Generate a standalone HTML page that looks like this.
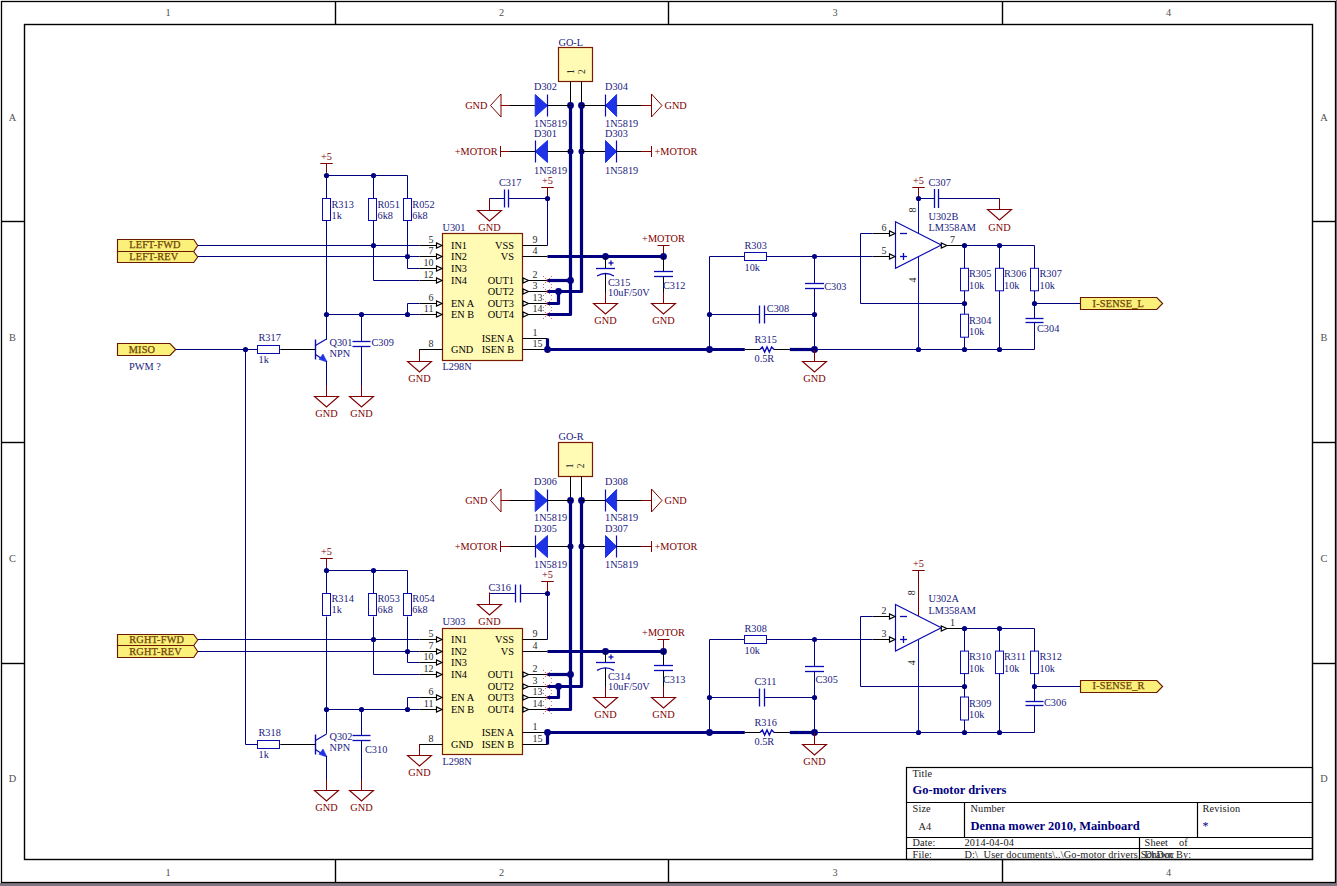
<!DOCTYPE html>
<html><head><meta charset="utf-8"><title>Go-motor drivers</title><style>html,body{margin:0;padding:0;background:#7e7982;}svg{display:block;}text{font-family:"Liberation Serif", serif;}</style></head><body><svg width="1337" height="886" viewBox="0 0 1337 886" font-family='"Liberation Serif", serif'><rect x="0" y="0" width="1337" height="886" fill="#7e7982"/>
<rect x="0" y="0" width="1336" height="883" fill="#ffffff"/>
<rect x="1.5" y="1.5" width="1334" height="881" fill="none" stroke="#000" stroke-width="1.3"/>
<rect x="24.5" y="24.5" width="1288" height="835" fill="none" stroke="#000" stroke-width="1.4"/>
<line x1="335.5" y1="1.5" x2="335.5" y2="24.5" stroke="#000" stroke-width="1.4" stroke-linecap="butt"/>
<line x1="335.5" y1="859.5" x2="335.5" y2="882" stroke="#000" stroke-width="1.4" stroke-linecap="butt"/>
<line x1="668.5" y1="1.5" x2="668.5" y2="24.5" stroke="#000" stroke-width="1.4" stroke-linecap="butt"/>
<line x1="668.5" y1="859.5" x2="668.5" y2="882" stroke="#000" stroke-width="1.4" stroke-linecap="butt"/>
<line x1="1002.5" y1="1.5" x2="1002.5" y2="24.5" stroke="#000" stroke-width="1.4" stroke-linecap="butt"/>
<line x1="1002.5" y1="859.5" x2="1002.5" y2="882" stroke="#000" stroke-width="1.4" stroke-linecap="butt"/>
<line x1="1.5" y1="221.5" x2="24.5" y2="221.5" stroke="#000" stroke-width="1.4" stroke-linecap="butt"/>
<line x1="1312.5" y1="221.5" x2="1335" y2="221.5" stroke="#000" stroke-width="1.4" stroke-linecap="butt"/>
<line x1="1.5" y1="442.5" x2="24.5" y2="442.5" stroke="#000" stroke-width="1.4" stroke-linecap="butt"/>
<line x1="1312.5" y1="442.5" x2="1335" y2="442.5" stroke="#000" stroke-width="1.4" stroke-linecap="butt"/>
<line x1="1.5" y1="663.5" x2="24.5" y2="663.5" stroke="#000" stroke-width="1.4" stroke-linecap="butt"/>
<line x1="1312.5" y1="663.5" x2="1335" y2="663.5" stroke="#000" stroke-width="1.4" stroke-linecap="butt"/>
<text x="168" y="16" fill="#505050" font-size="10.3" text-anchor="middle" font-weight="normal">1</text>
<text x="168" y="875.5" fill="#505050" font-size="10.3" text-anchor="middle" font-weight="normal">1</text>
<text x="501.5" y="16" fill="#505050" font-size="10.3" text-anchor="middle" font-weight="normal">2</text>
<text x="501.5" y="875.5" fill="#505050" font-size="10.3" text-anchor="middle" font-weight="normal">2</text>
<text x="835" y="16" fill="#505050" font-size="10.3" text-anchor="middle" font-weight="normal">3</text>
<text x="835" y="875.5" fill="#505050" font-size="10.3" text-anchor="middle" font-weight="normal">3</text>
<text x="1168.5" y="16" fill="#505050" font-size="10.3" text-anchor="middle" font-weight="normal">4</text>
<text x="1168.5" y="875.5" fill="#505050" font-size="10.3" text-anchor="middle" font-weight="normal">4</text>
<text x="12.5" y="120.5" fill="#505050" font-size="10.3" text-anchor="middle" font-weight="normal">A</text>
<text x="1324" y="120.5" fill="#505050" font-size="10.3" text-anchor="middle" font-weight="normal">A</text>
<text x="12.5" y="341" fill="#505050" font-size="10.3" text-anchor="middle" font-weight="normal">B</text>
<text x="1324" y="341" fill="#505050" font-size="10.3" text-anchor="middle" font-weight="normal">B</text>
<text x="12.5" y="561.5" fill="#505050" font-size="10.3" text-anchor="middle" font-weight="normal">C</text>
<text x="1324" y="561.5" fill="#505050" font-size="10.3" text-anchor="middle" font-weight="normal">C</text>
<text x="12.5" y="782" fill="#505050" font-size="10.3" text-anchor="middle" font-weight="normal">D</text>
<text x="1324" y="782" fill="#505050" font-size="10.3" text-anchor="middle" font-weight="normal">D</text>
<polygon points="117.5,239.5 193.7,239.5 197.7,245.5 193.7,251.5 117.5,251.5" fill="#faf07a" stroke="#6a1a00" stroke-width="1.15" stroke-linejoin="miter" stroke-linecap="butt"/>
<polygon points="117.5,251.5 193.7,251.5 197.7,257 193.7,262.5 117.5,262.5" fill="#faf07a" stroke="#6a1a00" stroke-width="1.15" stroke-linejoin="miter" stroke-linecap="butt"/>
<text x="129.2" y="248.4" fill="#6e4208" font-size="10.3" text-anchor="start" font-weight="normal" letter-spacing="0.2" stroke="#6e4208" stroke-width="0.25">LEFT-FWD</text>
<text x="129.2" y="259.6" fill="#6e4208" font-size="10.3" text-anchor="start" font-weight="normal" letter-spacing="0.2" stroke="#6e4208" stroke-width="0.25">LEFT-REV</text>
<polyline points="198,245.5 419.5,245.5" fill="none" stroke="#000080" stroke-width="1" stroke-linejoin="miter" stroke-linecap="butt"/>
<polyline points="198,256.5 419.5,256.5" fill="none" stroke="#000080" stroke-width="1" stroke-linejoin="miter" stroke-linecap="butt"/>
<rect x="442.5" y="233.5" width="80" height="127" fill="#fffab4" stroke="#7a1a00" stroke-width="1.2"/>
<polyline points="419.5,245.5 442.5,245.5" fill="none" stroke="#000000" stroke-width="1" stroke-linejoin="miter" stroke-linecap="butt"/>
<polygon points="436.5,242.9 436.5,248.1 442,245.5 436.5,242.9" fill="#fff" stroke="#000000" stroke-width="1.15" stroke-linejoin="miter" stroke-linecap="butt"/>
<text x="451" y="248.5" fill="#000000" font-size="10.3" text-anchor="start" font-weight="normal">IN1</text>
<polyline points="419.5,256.5 442.5,256.5" fill="none" stroke="#000000" stroke-width="1" stroke-linejoin="miter" stroke-linecap="butt"/>
<polygon points="436.5,253.9 436.5,259.1 442,256.5 436.5,253.9" fill="#fff" stroke="#000000" stroke-width="1.15" stroke-linejoin="miter" stroke-linecap="butt"/>
<text x="451" y="259.5" fill="#000000" font-size="10.3" text-anchor="start" font-weight="normal">IN2</text>
<polyline points="419.5,268.5 442.5,268.5" fill="none" stroke="#000000" stroke-width="1" stroke-linejoin="miter" stroke-linecap="butt"/>
<polygon points="436.5,265.9 436.5,271.1 442,268.5 436.5,265.9" fill="#fff" stroke="#000000" stroke-width="1.15" stroke-linejoin="miter" stroke-linecap="butt"/>
<text x="451" y="271.5" fill="#000000" font-size="10.3" text-anchor="start" font-weight="normal">IN3</text>
<polyline points="419.5,280.5 442.5,280.5" fill="none" stroke="#000000" stroke-width="1" stroke-linejoin="miter" stroke-linecap="butt"/>
<polygon points="436.5,277.9 436.5,283.1 442,280.5 436.5,277.9" fill="#fff" stroke="#000000" stroke-width="1.15" stroke-linejoin="miter" stroke-linecap="butt"/>
<text x="451" y="283.5" fill="#000000" font-size="10.3" text-anchor="start" font-weight="normal">IN4</text>
<polyline points="419.5,303.5 442.5,303.5" fill="none" stroke="#000000" stroke-width="1" stroke-linejoin="miter" stroke-linecap="butt"/>
<polygon points="436.5,300.9 436.5,306.1 442,303.5 436.5,300.9" fill="#fff" stroke="#000000" stroke-width="1.15" stroke-linejoin="miter" stroke-linecap="butt"/>
<text x="451" y="306.5" fill="#000000" font-size="10.3" text-anchor="start" font-weight="normal">EN A</text>
<polyline points="419.5,314.5 442.5,314.5" fill="none" stroke="#000000" stroke-width="1" stroke-linejoin="miter" stroke-linecap="butt"/>
<polygon points="436.5,311.9 436.5,317.1 442,314.5 436.5,311.9" fill="#fff" stroke="#000000" stroke-width="1.15" stroke-linejoin="miter" stroke-linecap="butt"/>
<text x="451" y="317.5" fill="#000000" font-size="10.3" text-anchor="start" font-weight="normal">EN B</text>
<polyline points="419.5,349.5 442.5,349.5" fill="none" stroke="#000000" stroke-width="1" stroke-linejoin="miter" stroke-linecap="butt"/>
<text x="451" y="352.5" fill="#000000" font-size="10.3" text-anchor="start" font-weight="normal">GND</text>
<text x="433.5" y="242.5" fill="#2a2a2a" font-size="10" text-anchor="end" font-weight="normal">5</text>
<text x="433.5" y="253.5" fill="#2a2a2a" font-size="10" text-anchor="end" font-weight="normal">7</text>
<text x="433.5" y="265.5" fill="#2a2a2a" font-size="10" text-anchor="end" font-weight="normal">10</text>
<text x="433.5" y="277.5" fill="#2a2a2a" font-size="10" text-anchor="end" font-weight="normal">12</text>
<text x="433.5" y="300.5" fill="#2a2a2a" font-size="10" text-anchor="end" font-weight="normal">6</text>
<text x="433.5" y="311.5" fill="#2a2a2a" font-size="10" text-anchor="end" font-weight="normal">11</text>
<text x="433.5" y="346.5" fill="#2a2a2a" font-size="10" text-anchor="end" font-weight="normal">8</text>
<polyline points="522.5,245.5 547.5,245.5" fill="none" stroke="#000000" stroke-width="1" stroke-linejoin="miter" stroke-linecap="butt"/>
<text x="514" y="248.5" fill="#000000" font-size="10.3" text-anchor="end" font-weight="normal">VSS</text>
<polyline points="522.5,256.5 547.5,256.5" fill="none" stroke="#000000" stroke-width="1" stroke-linejoin="miter" stroke-linecap="butt"/>
<text x="514" y="259.5" fill="#000000" font-size="10.3" text-anchor="end" font-weight="normal">VS</text>
<polyline points="522.5,280.5 547.5,280.5" fill="none" stroke="#000000" stroke-width="1" stroke-linejoin="miter" stroke-linecap="butt"/>
<polygon points="523,277.9 523,283.1 528.5,280.5 523,277.9" fill="#fff" stroke="#000000" stroke-width="1.15" stroke-linejoin="miter" stroke-linecap="butt"/>
<text x="514" y="283.5" fill="#000000" font-size="10.3" text-anchor="end" font-weight="normal">OUT1</text>
<polyline points="522.5,291.5 547.5,291.5" fill="none" stroke="#000000" stroke-width="1" stroke-linejoin="miter" stroke-linecap="butt"/>
<polygon points="523,288.9 523,294.1 528.5,291.5 523,288.9" fill="#fff" stroke="#000000" stroke-width="1.15" stroke-linejoin="miter" stroke-linecap="butt"/>
<text x="514" y="294.5" fill="#000000" font-size="10.3" text-anchor="end" font-weight="normal">OUT2</text>
<polyline points="522.5,303.5 547.5,303.5" fill="none" stroke="#000000" stroke-width="1" stroke-linejoin="miter" stroke-linecap="butt"/>
<polygon points="523,300.9 523,306.1 528.5,303.5 523,300.9" fill="#fff" stroke="#000000" stroke-width="1.15" stroke-linejoin="miter" stroke-linecap="butt"/>
<text x="514" y="306.5" fill="#000000" font-size="10.3" text-anchor="end" font-weight="normal">OUT3</text>
<polyline points="522.5,314.5 547.5,314.5" fill="none" stroke="#000000" stroke-width="1" stroke-linejoin="miter" stroke-linecap="butt"/>
<polygon points="523,311.9 523,317.1 528.5,314.5 523,311.9" fill="#fff" stroke="#000000" stroke-width="1.15" stroke-linejoin="miter" stroke-linecap="butt"/>
<text x="514" y="317.5" fill="#000000" font-size="10.3" text-anchor="end" font-weight="normal">OUT4</text>
<polyline points="522.5,338.5 547.5,338.5" fill="none" stroke="#000000" stroke-width="1" stroke-linejoin="miter" stroke-linecap="butt"/>
<text x="514" y="341.5" fill="#000000" font-size="10.3" text-anchor="end" font-weight="normal">ISEN A</text>
<polyline points="522.5,349.5 547.5,349.5" fill="none" stroke="#000000" stroke-width="1" stroke-linejoin="miter" stroke-linecap="butt"/>
<text x="514" y="352.5" fill="#000000" font-size="10.3" text-anchor="end" font-weight="normal">ISEN B</text>
<text x="532.5" y="242.5" fill="#2a2a2a" font-size="10" text-anchor="start" font-weight="normal">9</text>
<text x="532.5" y="253.5" fill="#2a2a2a" font-size="10" text-anchor="start" font-weight="normal">4</text>
<text x="532.5" y="277.5" fill="#2a2a2a" font-size="10" text-anchor="start" font-weight="normal">2</text>
<text x="532.5" y="288.5" fill="#2a2a2a" font-size="10" text-anchor="start" font-weight="normal">3</text>
<text x="532.5" y="300.5" fill="#2a2a2a" font-size="10" text-anchor="start" font-weight="normal">13</text>
<text x="532.5" y="311.5" fill="#2a2a2a" font-size="10" text-anchor="start" font-weight="normal">14</text>
<text x="532.5" y="335.5" fill="#2a2a2a" font-size="10" text-anchor="start" font-weight="normal">1</text>
<text x="532.5" y="346.5" fill="#2a2a2a" font-size="10" text-anchor="start" font-weight="normal">15</text>
<text x="442.5" y="230.6" fill="#1a1a80" font-size="10.3" text-anchor="start" font-weight="normal">U301</text>
<text x="442.5" y="370.4" fill="#1a1a80" font-size="10.3" text-anchor="start" font-weight="normal">L298N</text>
<g stroke="#b01818" stroke-width="1" stroke-dasharray="1.1,1.7" opacity="0.85"><line x1="543" y1="276" x2="552" y2="285"/><line x1="543" y1="285" x2="552" y2="276"/></g>
<rect x="546.5" y="279.5" width="2" height="2" fill="#e01010"/>
<g stroke="#b01818" stroke-width="1" stroke-dasharray="1.1,1.7" opacity="0.85"><line x1="543" y1="287" x2="552" y2="296"/><line x1="543" y1="296" x2="552" y2="287"/></g>
<rect x="546.5" y="290.5" width="2" height="2" fill="#e01010"/>
<g stroke="#b01818" stroke-width="1" stroke-dasharray="1.1,1.7" opacity="0.85"><line x1="543" y1="299" x2="552" y2="308"/><line x1="543" y1="308" x2="552" y2="299"/></g>
<rect x="546.5" y="302.5" width="2" height="2" fill="#e01010"/>
<g stroke="#b01818" stroke-width="1" stroke-dasharray="1.1,1.7" opacity="0.85"><line x1="543" y1="310" x2="552" y2="319"/><line x1="543" y1="319" x2="552" y2="310"/></g>
<rect x="546.5" y="313.5" width="2" height="2" fill="#e01010"/>
<line x1="320.25" y1="163.5" x2="332.75" y2="163.5" stroke="#800000" stroke-width="1" stroke-linecap="butt"/>
<text x="326.5" y="159.5" fill="#800000" font-size="10.3" text-anchor="middle" font-weight="normal">+5</text>
<polyline points="326.5,163.5 326.5,172.5" fill="none" stroke="#800000" stroke-width="1" stroke-linejoin="miter" stroke-linecap="butt"/>
<polyline points="326.5,172.5 326.5,198.5" fill="none" stroke="#000080" stroke-width="1" stroke-linejoin="miter" stroke-linecap="butt"/>
<rect x="322.5" y="198.5" width="8" height="22" fill="none" stroke="#0a0ab4" stroke-width="1"/>
<polyline points="326.5,220.5 326.5,339.5" fill="none" stroke="#000080" stroke-width="1" stroke-linejoin="miter" stroke-linecap="butt"/>
<polyline points="326.5,175.5 407.5,175.5 407.5,198.5" fill="none" stroke="#000080" stroke-width="1" stroke-linejoin="miter" stroke-linecap="butt"/>
<polyline points="373.5,175.5 373.5,198.5" fill="none" stroke="#000080" stroke-width="1" stroke-linejoin="miter" stroke-linecap="butt"/>
<rect x="368.5" y="198.5" width="8" height="22" fill="none" stroke="#0a0ab4" stroke-width="1"/>
<rect x="403.5" y="198.5" width="8" height="22" fill="none" stroke="#0a0ab4" stroke-width="1"/>
<polyline points="373.5,220.5 373.5,280.5 419.5,280.5" fill="none" stroke="#000080" stroke-width="1" stroke-linejoin="miter" stroke-linecap="butt"/>
<polyline points="407.5,220.5 407.5,268.5 419.5,268.5" fill="none" stroke="#000080" stroke-width="1" stroke-linejoin="miter" stroke-linecap="butt"/>
<polyline points="407.5,303.5 407.5,314.5" fill="none" stroke="#000080" stroke-width="1" stroke-linejoin="miter" stroke-linecap="butt"/>
<polyline points="407.5,303.5 419.5,303.5" fill="none" stroke="#000080" stroke-width="1" stroke-linejoin="miter" stroke-linecap="butt"/>
<polyline points="326.5,314.5 419.5,314.5" fill="none" stroke="#000080" stroke-width="1" stroke-linejoin="miter" stroke-linecap="butt"/>
<circle cx="326.5" cy="175.5" r="2.6" fill="#000080"/>
<circle cx="373.5" cy="175.5" r="2.6" fill="#000080"/>
<circle cx="373.5" cy="245.5" r="2.6" fill="#000080"/>
<circle cx="407.5" cy="256.5" r="2.6" fill="#000080"/>
<circle cx="326.5" cy="314.5" r="2.6" fill="#000080"/>
<circle cx="361.5" cy="314.5" r="2.6" fill="#000080"/>
<circle cx="407.5" cy="314.5" r="2.6" fill="#000080"/>
<text x="331.5" y="207.8" fill="#1a1a80" font-size="10.3" text-anchor="start" font-weight="normal">R313</text>
<text x="331.5" y="218.8" fill="#1a1a80" font-size="10.3" text-anchor="start" font-weight="normal">1k</text>
<text x="377.5" y="207.8" fill="#1a1a80" font-size="10.3" text-anchor="start" font-weight="normal">R051</text>
<text x="377.5" y="218.8" fill="#1a1a80" font-size="10.3" text-anchor="start" font-weight="normal">6k8</text>
<text x="412.3" y="207.8" fill="#1a1a80" font-size="10.3" text-anchor="start" font-weight="normal">R052</text>
<text x="412.3" y="218.8" fill="#1a1a80" font-size="10.3" text-anchor="start" font-weight="normal">6k8</text>
<line x1="315.5" y1="339.5" x2="315.5" y2="359.5" stroke="#0a0ab4" stroke-width="1.4" stroke-linecap="butt"/>
<line x1="315.5" y1="345.5" x2="326.5" y2="339" stroke="#0a0ab4" stroke-width="1.2" stroke-linecap="butt"/>
<line x1="315.5" y1="354.5" x2="324.5" y2="360.5" stroke="#0a0ab4" stroke-width="1.2" stroke-linecap="butt"/>
<polygon points="327,362 319,359.3 323,354" fill="#1e32e6" stroke="#1e32e6" stroke-width="0.6" stroke-linejoin="miter" stroke-linecap="butt"/>
<polyline points="280.5,349.5 315.5,349.5" fill="none" stroke="#000000" stroke-width="1" stroke-linejoin="miter" stroke-linecap="butt"/>
<polyline points="326.5,339 326.5,339.5" fill="none" stroke="#000000" stroke-width="1" stroke-linejoin="miter" stroke-linecap="butt"/>
<polyline points="326.5,361 326.5,396.5" fill="none" stroke="#000080" stroke-width="1" stroke-linejoin="miter" stroke-linecap="butt"/>
<line x1="326.5" y1="385.5" x2="326.5" y2="396.5" stroke="#800000" stroke-width="1" stroke-linecap="butt"/>
<polygon points="314.5,396.5 338.5,396.5 326.5,407 314.5,396.5" fill="none" stroke="#800000" stroke-width="1.1" stroke-linejoin="miter" stroke-linecap="butt"/>
<text x="326.5" y="416.8" fill="#800000" font-size="10.3" text-anchor="middle" font-weight="normal">GND</text>
<text x="329.5" y="345.6" fill="#1a1a80" font-size="10.3" text-anchor="start" font-weight="normal">Q301</text>
<text x="329.5" y="356.8" fill="#1a1a80" font-size="10.3" text-anchor="start" font-weight="normal">NPN</text>
<polyline points="361.5,314.5 361.5,341.5" fill="none" stroke="#000080" stroke-width="1" stroke-linejoin="miter" stroke-linecap="butt"/>
<line x1="352.5" y1="341.5" x2="370.5" y2="341.5" stroke="#0a0ab4" stroke-width="1.3" stroke-linecap="butt"/>
<line x1="352.5" y1="346.5" x2="370.5" y2="346.5" stroke="#0a0ab4" stroke-width="1.3" stroke-linecap="butt"/>
<polyline points="361.5,346.5 361.5,396.5" fill="none" stroke="#000080" stroke-width="1" stroke-linejoin="miter" stroke-linecap="butt"/>
<line x1="361.5" y1="385.5" x2="361.5" y2="396.5" stroke="#800000" stroke-width="1" stroke-linecap="butt"/>
<polygon points="349.5,396.5 373.5,396.5 361.5,407 349.5,396.5" fill="none" stroke="#800000" stroke-width="1.1" stroke-linejoin="miter" stroke-linecap="butt"/>
<text x="361.5" y="416.8" fill="#800000" font-size="10.3" text-anchor="middle" font-weight="normal">GND</text>
<text x="371.5" y="345.6" fill="#1a1a80" font-size="10.3" text-anchor="start" font-weight="normal">C309</text>
<polygon points="117.5,343.5 170,343.5 175.7,349.5 170,355.5 117.5,355.5" fill="#faf07a" stroke="#6a1a00" stroke-width="1.15" stroke-linejoin="miter" stroke-linecap="butt"/>
<text x="128.7" y="352.8" fill="#6e4208" font-size="10.3" text-anchor="start" font-weight="normal" letter-spacing="0.2" stroke="#6e4208" stroke-width="0.25">MISO</text>
<text x="129" y="370.2" fill="#1a1a80" font-size="10.3" text-anchor="start" font-weight="normal" xml:space="preserve">PWM ?</text>
<polyline points="176,349.5 257,349.5" fill="none" stroke="#000080" stroke-width="1" stroke-linejoin="miter" stroke-linecap="butt"/>
<circle cx="245.5" cy="349.5" r="2.6" fill="#000080"/>
<polyline points="245.5,349.5 245.5,744.5 257,744.5" fill="none" stroke="#000080" stroke-width="1" stroke-linejoin="miter" stroke-linecap="butt"/>
<rect x="257.5" y="345.5" width="22" height="8" fill="none" stroke="#0a0ab4" stroke-width="1"/>
<polyline points="279.5,349.5 280.5,349.5" fill="none" stroke="#000080" stroke-width="1" stroke-linejoin="miter" stroke-linecap="butt"/>
<text x="258.5" y="341.2" fill="#1a1a80" font-size="10.3" text-anchor="start" font-weight="normal">R317</text>
<text x="258.5" y="363.4" fill="#1a1a80" font-size="10.3" text-anchor="start" font-weight="normal">1k</text>
<polyline points="442.5,349.5 419.5,349.5 419.5,361.3" fill="none" stroke="#000000" stroke-width="1" stroke-linejoin="miter" stroke-linecap="butt"/>
<line x1="419.5" y1="350.5" x2="419.5" y2="361.5" stroke="#800000" stroke-width="1" stroke-linecap="butt"/>
<polygon points="407.5,361.5 431.5,361.5 419.5,372 407.5,361.5" fill="none" stroke="#800000" stroke-width="1.1" stroke-linejoin="miter" stroke-linecap="butt"/>
<text x="419.5" y="382" fill="#800000" font-size="10.3" text-anchor="middle" font-weight="normal">GND</text>
<polyline points="547.5,245.5 547.5,198.5" fill="none" stroke="#000080" stroke-width="1" stroke-linejoin="miter" stroke-linecap="butt"/>
<polyline points="547.5,198.5 547.5,187.5" fill="none" stroke="#800000" stroke-width="1" stroke-linejoin="miter" stroke-linecap="butt"/>
<line x1="541.25" y1="187.5" x2="553.75" y2="187.5" stroke="#800000" stroke-width="1" stroke-linecap="butt"/>
<text x="547.5" y="183.5" fill="#800000" font-size="10.3" text-anchor="middle" font-weight="normal">+5</text>
<circle cx="547.5" cy="198.5" r="2.6" fill="#000080"/>
<text x="499" y="186" fill="#1a1a80" font-size="10.3" text-anchor="start" font-weight="normal">C317</text>
<polyline points="547.5,198.5 508.5,198.5" fill="none" stroke="#000080" stroke-width="1" stroke-linejoin="miter" stroke-linecap="butt"/>
<line x1="504.5" y1="189.5" x2="504.5" y2="207.5" stroke="#0a0ab4" stroke-width="1.3" stroke-linecap="butt"/>
<line x1="508.5" y1="189.5" x2="508.5" y2="207.5" stroke="#0a0ab4" stroke-width="1.3" stroke-linecap="butt"/>
<polyline points="504.5,198.5 489.5,198.5 489.5,210.2" fill="none" stroke="#000080" stroke-width="1" stroke-linejoin="miter" stroke-linecap="butt"/>
<line x1="489.5" y1="198.5" x2="489.5" y2="210.5" stroke="#800000" stroke-width="1" stroke-linecap="butt"/>
<polygon points="477.5,210.5 501.5,210.5 489.5,221 477.5,210.5" fill="none" stroke="#800000" stroke-width="1.1" stroke-linejoin="miter" stroke-linecap="butt"/>
<text x="489.5" y="231" fill="#800000" font-size="10.3" text-anchor="middle" font-weight="normal">GND</text>
<polyline points="663.5,256.5 663.5,245.5" fill="none" stroke="#800000" stroke-width="1" stroke-linejoin="miter" stroke-linecap="butt"/>
<polyline points="547.5,256.5 663.5,256.5" fill="none" stroke="#000080" stroke-width="3.2" stroke-linejoin="round" stroke-linecap="butt"/>
<circle cx="605.5" cy="256.5" r="3.4" fill="#000080"/>
<circle cx="663.5" cy="256.5" r="3.4" fill="#000080"/>
<line x1="657.5" y1="245.5" x2="669.5" y2="245.5" stroke="#800000" stroke-width="1" stroke-linecap="butt"/>
<text x="663.5" y="241.5" fill="#800000" font-size="10.3" text-anchor="middle" font-weight="normal">+MOTOR</text>
<polyline points="605.5,256.5 605.5,268.3" fill="none" stroke="#000000" stroke-width="1" stroke-linejoin="miter" stroke-linecap="butt"/>
<line x1="596" y1="268.5" x2="615" y2="268.5" stroke="#0a0ab4" stroke-width="1.3" stroke-linecap="butt"/>
<path d="M597,276 Q605.5,271 614,276" fill="none" stroke="#0a0ab4" stroke-width="1.3"/>
<line x1="608.5" y1="263" x2="613.5" y2="263" stroke="#0a0ab4" stroke-width="1.3" stroke-linecap="butt"/>
<line x1="611" y1="260.5" x2="611" y2="265.5" stroke="#0a0ab4" stroke-width="1.3" stroke-linecap="butt"/>
<polyline points="605.5,273.5 605.5,303.2" fill="none" stroke="#000000" stroke-width="1" stroke-linejoin="miter" stroke-linecap="butt"/>
<line x1="605.5" y1="292.5" x2="605.5" y2="303.5" stroke="#800000" stroke-width="1" stroke-linecap="butt"/>
<polygon points="593.5,303.5 617.5,303.5 605.5,314 593.5,303.5" fill="none" stroke="#800000" stroke-width="1.1" stroke-linejoin="miter" stroke-linecap="butt"/>
<text x="605.5" y="324" fill="#800000" font-size="10.3" text-anchor="middle" font-weight="normal">GND</text>
<text x="608" y="285.5" fill="#1a1a80" font-size="10.3" text-anchor="start" font-weight="normal">C315</text>
<text x="608" y="296" fill="#1a1a80" font-size="10.3" text-anchor="start" font-weight="normal">10uF/50V</text>
<polyline points="663.5,256.5 663.5,271.5" fill="none" stroke="#000000" stroke-width="1" stroke-linejoin="miter" stroke-linecap="butt"/>
<line x1="654" y1="271.5" x2="673" y2="271.5" stroke="#0a0ab4" stroke-width="1.3" stroke-linecap="butt"/>
<line x1="654" y1="276.5" x2="673" y2="276.5" stroke="#0a0ab4" stroke-width="1.3" stroke-linecap="butt"/>
<polyline points="663.5,276.5 663.5,303.2" fill="none" stroke="#000000" stroke-width="1" stroke-linejoin="miter" stroke-linecap="butt"/>
<line x1="663.5" y1="292.5" x2="663.5" y2="303.5" stroke="#800000" stroke-width="1" stroke-linecap="butt"/>
<polygon points="651.5,303.5 675.5,303.5 663.5,314 651.5,303.5" fill="none" stroke="#800000" stroke-width="1.1" stroke-linejoin="miter" stroke-linecap="butt"/>
<text x="663.5" y="324" fill="#800000" font-size="10.3" text-anchor="middle" font-weight="normal">GND</text>
<text x="663" y="289" fill="#1a1a80" font-size="10.3" text-anchor="start" font-weight="normal">C312</text>
<polyline points="547.5,280.5 570.5,280.5" fill="none" stroke="#000080" stroke-width="3.2" stroke-linejoin="round" stroke-linecap="butt"/>
<polyline points="570.5,105.5 570.5,314.5 547.5,314.5" fill="none" stroke="#000080" stroke-width="3.2" stroke-linejoin="round" stroke-linecap="butt"/>
<polyline points="581.5,105.5 581.5,291.5 547.5,291.5" fill="none" stroke="#000080" stroke-width="3.2" stroke-linejoin="round" stroke-linecap="butt"/>
<polyline points="558.5,291.5 558.5,303.5 547.5,303.5" fill="none" stroke="#000080" stroke-width="3.2" stroke-linejoin="round" stroke-linecap="butt"/>
<circle cx="570.5" cy="280.5" r="3.4" fill="#000080"/>
<circle cx="558.5" cy="291.5" r="3.4" fill="#000080"/>
<polyline points="547.5,338.5 547.5,349.5" fill="none" stroke="#000080" stroke-width="3.2" stroke-linejoin="round" stroke-linecap="butt"/>
<circle cx="547.5" cy="349.5" r="3.4" fill="#000080"/>
<rect x="558.5" y="47.5" width="34" height="34" fill="#fffab4" stroke="#7a1a00" stroke-width="1.2"/>
<text x="558.5" y="45.7" fill="#1a1a80" font-size="10.3" text-anchor="start" font-weight="normal">GO-L</text>
<text x="573.5" y="71.5" fill="#2a2a2a" font-size="9.5" text-anchor="middle" font-weight="normal" transform="rotate(-90 573.5 71.5)">1</text>
<text x="584.5" y="71.5" fill="#2a2a2a" font-size="9.5" text-anchor="middle" font-weight="normal" transform="rotate(-90 584.5 71.5)">2</text>
<polyline points="570.5,81.5 570.5,105.5" fill="none" stroke="#000000" stroke-width="1" stroke-linejoin="miter" stroke-linecap="butt"/>
<polyline points="581.5,81.5 581.5,105.5" fill="none" stroke="#000000" stroke-width="1" stroke-linejoin="miter" stroke-linecap="butt"/>
<circle cx="570.5" cy="105.5" r="3.4" fill="#000080"/>
<circle cx="581.5" cy="105.5" r="3.4" fill="#000080"/>
<circle cx="570.5" cy="151.5" r="3" fill="#000080"/>
<circle cx="581.5" cy="151.5" r="3" fill="#000080"/>
<polygon points="501,94 501,117 490.5,105.5" fill="none" stroke="#800000" stroke-width="1" stroke-linejoin="miter" stroke-linecap="butt"/>
<text x="487.5" y="109" fill="#800000" font-size="10.3" text-anchor="end" font-weight="normal">GND</text>
<polyline points="500.5,105.5 510,105.5" fill="none" stroke="#800000" stroke-width="1" stroke-linejoin="miter" stroke-linecap="butt"/>
<polyline points="510,105.5 535.2,105.5" fill="none" stroke="#000000" stroke-width="1" stroke-linejoin="miter" stroke-linecap="butt"/>
<polygon points="535.2,94.5 535.2,116.5 547.5,105.5" fill="#1e32e6" stroke="#1e32e6" stroke-width="1" stroke-linejoin="miter" stroke-linecap="butt"/>
<line x1="547.5" y1="94.5" x2="547.5" y2="116.5" stroke="#0a0ab4" stroke-width="1.2" stroke-linecap="butt"/>
<polyline points="547.5,105.5 570.5,105.5" fill="none" stroke="#000000" stroke-width="1" stroke-linejoin="miter" stroke-linecap="butt"/>
<polyline points="581.5,105.5 605.5,105.5" fill="none" stroke="#000000" stroke-width="1" stroke-linejoin="miter" stroke-linecap="butt"/>
<polygon points="616.6,94.5 616.6,116.5 605.5,105.5" fill="#1e32e6" stroke="#1e32e6" stroke-width="1" stroke-linejoin="miter" stroke-linecap="butt"/>
<line x1="605.5" y1="94.5" x2="605.5" y2="116.5" stroke="#0a0ab4" stroke-width="1.2" stroke-linecap="butt"/>
<polyline points="616.6,105.5 641,105.5" fill="none" stroke="#000000" stroke-width="1" stroke-linejoin="miter" stroke-linecap="butt"/>
<polyline points="641,105.5 651.3,105.5" fill="none" stroke="#800000" stroke-width="1" stroke-linejoin="miter" stroke-linecap="butt"/>
<polygon points="651.5,94 651.5,117 662,105.5" fill="none" stroke="#800000" stroke-width="1" stroke-linejoin="miter" stroke-linecap="butt"/>
<text x="664.5" y="109" fill="#800000" font-size="10.3" text-anchor="start" font-weight="normal">GND</text>
<line x1="500.5" y1="146" x2="500.5" y2="157" stroke="#800000" stroke-width="1" stroke-linecap="butt"/>
<text x="497.5" y="155" fill="#800000" font-size="10.3" text-anchor="end" font-weight="normal">+MOTOR</text>
<polyline points="500.5,151.5 510,151.5" fill="none" stroke="#800000" stroke-width="1" stroke-linejoin="miter" stroke-linecap="butt"/>
<polyline points="510,151.5 535.2,151.5" fill="none" stroke="#000000" stroke-width="1" stroke-linejoin="miter" stroke-linecap="butt"/>
<polygon points="547.5,140.5 547.5,162.5 535.2,151.5" fill="#1e32e6" stroke="#1e32e6" stroke-width="1" stroke-linejoin="miter" stroke-linecap="butt"/>
<line x1="535.5" y1="140.5" x2="535.5" y2="162.5" stroke="#0a0ab4" stroke-width="1.2" stroke-linecap="butt"/>
<polyline points="547.5,151.5 570.5,151.5" fill="none" stroke="#000000" stroke-width="1" stroke-linejoin="miter" stroke-linecap="butt"/>
<polyline points="581.5,151.5 605.5,151.5" fill="none" stroke="#000000" stroke-width="1" stroke-linejoin="miter" stroke-linecap="butt"/>
<polygon points="605.5,140.5 605.5,162.5 616.6,151.5" fill="#1e32e6" stroke="#1e32e6" stroke-width="1" stroke-linejoin="miter" stroke-linecap="butt"/>
<line x1="616.5" y1="140.5" x2="616.5" y2="162.5" stroke="#0a0ab4" stroke-width="1.2" stroke-linecap="butt"/>
<polyline points="616.6,151.5 641,151.5" fill="none" stroke="#000000" stroke-width="1" stroke-linejoin="miter" stroke-linecap="butt"/>
<polyline points="641,151.5 651.3,151.5" fill="none" stroke="#800000" stroke-width="1" stroke-linejoin="miter" stroke-linecap="butt"/>
<line x1="651.5" y1="146" x2="651.5" y2="157" stroke="#800000" stroke-width="1" stroke-linecap="butt"/>
<text x="654.5" y="155" fill="#800000" font-size="10.3" text-anchor="start" font-weight="normal">+MOTOR</text>
<text x="534" y="90.4" fill="#1a1a80" font-size="10.3" text-anchor="start" font-weight="normal">D302</text>
<text x="534" y="126.6" fill="#1a1a80" font-size="10.3" text-anchor="start" font-weight="normal">1N5819</text>
<text x="534" y="137.2" fill="#1a1a80" font-size="10.3" text-anchor="start" font-weight="normal">D301</text>
<text x="534" y="173.9" fill="#1a1a80" font-size="10.3" text-anchor="start" font-weight="normal">1N5819</text>
<text x="605" y="90.4" fill="#1a1a80" font-size="10.3" text-anchor="start" font-weight="normal">D304</text>
<text x="605" y="126.6" fill="#1a1a80" font-size="10.3" text-anchor="start" font-weight="normal">1N5819</text>
<text x="605" y="137.2" fill="#1a1a80" font-size="10.3" text-anchor="start" font-weight="normal">D303</text>
<text x="605" y="173.9" fill="#1a1a80" font-size="10.3" text-anchor="start" font-weight="normal">1N5819</text>
<polyline points="547.5,349.5 744.8,349.5" fill="none" stroke="#000080" stroke-width="3.2" stroke-linejoin="round" stroke-linecap="butt"/>
<polyline points="744.8,349.5 760,349.5" fill="none" stroke="#000000" stroke-width="1" stroke-linejoin="miter" stroke-linecap="butt"/>
<polyline points="760,349.5 762.33,347 764.67,352 767,347 769.33,352 771.67,347 774,349.5" fill="none" stroke="#0a0ab4" stroke-width="1.4" stroke-linejoin="miter" stroke-linecap="butt"/>
<polyline points="774,349.5 789.8,349.5" fill="none" stroke="#000000" stroke-width="1" stroke-linejoin="miter" stroke-linecap="butt"/>
<polyline points="789.8,349.5 814.5,349.5" fill="none" stroke="#000080" stroke-width="3.2" stroke-linejoin="round" stroke-linecap="butt"/>
<circle cx="709.5" cy="349.5" r="3.4" fill="#000080"/>
<circle cx="814.5" cy="349.5" r="3.4" fill="#000080"/>
<polyline points="814.5,349.5 1034.5,349.5" fill="none" stroke="#000080" stroke-width="1" stroke-linejoin="miter" stroke-linecap="butt"/>
<circle cx="918.5" cy="349.5" r="2.6" fill="#000080"/>
<circle cx="964.5" cy="349.5" r="2.6" fill="#000080"/>
<circle cx="999.5" cy="349.5" r="2.6" fill="#000080"/>
<text x="754.5" y="343.2" fill="#1a1a80" font-size="10.3" text-anchor="start" font-weight="normal">R315</text>
<text x="754.5" y="362" fill="#1a1a80" font-size="10.3" text-anchor="start" font-weight="normal">0.5R</text>
<polyline points="814.5,349.5 814.5,361.3" fill="none" stroke="#800000" stroke-width="1" stroke-linejoin="miter" stroke-linecap="butt"/>
<line x1="814.5" y1="350.5" x2="814.5" y2="361.5" stroke="#800000" stroke-width="1" stroke-linecap="butt"/>
<polygon points="802.5,361.5 826.5,361.5 814.5,372 802.5,361.5" fill="none" stroke="#800000" stroke-width="1.1" stroke-linejoin="miter" stroke-linecap="butt"/>
<text x="814.5" y="381.8" fill="#800000" font-size="10.3" text-anchor="middle" font-weight="normal">GND</text>
<polyline points="709.5,349.5 709.5,256.5 744.1,256.5" fill="none" stroke="#000080" stroke-width="1" stroke-linejoin="miter" stroke-linecap="butt"/>
<rect x="744.5" y="252.5" width="22" height="8" fill="none" stroke="#0a0ab4" stroke-width="1"/>
<polyline points="766.5,256.5 872.5,256.5" fill="none" stroke="#000080" stroke-width="1" stroke-linejoin="miter" stroke-linecap="butt"/>
<polyline points="872.5,256.5 895.5,256.5" fill="none" stroke="#000000" stroke-width="1" stroke-linejoin="miter" stroke-linecap="butt"/>
<circle cx="709.5" cy="314.5" r="2.6" fill="#000080"/>
<circle cx="814.5" cy="314.5" r="2.6" fill="#000080"/>
<circle cx="814.5" cy="256.5" r="2.5" fill="#000080"/>
<text x="744.5" y="249.4" fill="#1a1a80" font-size="10.3" text-anchor="start" font-weight="normal">R303</text>
<text x="744.5" y="271" fill="#1a1a80" font-size="10.3" text-anchor="start" font-weight="normal">10k</text>
<polyline points="814.5,256.5 814.5,283.8" fill="none" stroke="#000080" stroke-width="1" stroke-linejoin="miter" stroke-linecap="butt"/>
<line x1="805" y1="283.5" x2="824" y2="283.5" stroke="#0a0ab4" stroke-width="1.3" stroke-linecap="butt"/>
<line x1="805" y1="288.5" x2="824" y2="288.5" stroke="#0a0ab4" stroke-width="1.3" stroke-linecap="butt"/>
<polyline points="814.5,288.6 814.5,349.5" fill="none" stroke="#000080" stroke-width="1" stroke-linejoin="miter" stroke-linecap="butt"/>
<text x="824.2" y="289.6" fill="#1a1a80" font-size="10.3" text-anchor="start" font-weight="normal">C303</text>
<polyline points="709.5,314.5 759.5,314.5" fill="none" stroke="#000080" stroke-width="1" stroke-linejoin="miter" stroke-linecap="butt"/>
<line x1="759.5" y1="305.5" x2="759.5" y2="323.5" stroke="#0a0ab4" stroke-width="1.3" stroke-linecap="butt"/>
<line x1="764.5" y1="305.5" x2="764.5" y2="323.5" stroke="#0a0ab4" stroke-width="1.3" stroke-linecap="butt"/>
<polyline points="764.5,314.5 814.5,314.5" fill="none" stroke="#000080" stroke-width="1" stroke-linejoin="miter" stroke-linecap="butt"/>
<text x="766.8" y="312.2" fill="#1a1a80" font-size="10.3" text-anchor="start" font-weight="normal">C308</text>
<polygon points="895.5,221.7 941.3,245 895.5,268.3" fill="none" stroke="#0a0ab4" stroke-width="1.15" stroke-linejoin="miter" stroke-linecap="butt"/>
<line x1="900" y1="233.5" x2="907" y2="233.5" stroke="#0a0ab4" stroke-width="1.3" stroke-linecap="butt"/>
<line x1="900" y1="256.5" x2="907" y2="256.5" stroke="#0a0ab4" stroke-width="1.3" stroke-linecap="butt"/>
<line x1="903.5" y1="253" x2="903.5" y2="260" stroke="#0a0ab4" stroke-width="1.3" stroke-linecap="butt"/>
<polyline points="860.5,233.5 872.5,233.5" fill="none" stroke="#000080" stroke-width="1" stroke-linejoin="miter" stroke-linecap="butt"/>
<polyline points="872.5,233.5 895.5,233.5" fill="none" stroke="#000000" stroke-width="1" stroke-linejoin="miter" stroke-linecap="butt"/>
<polygon points="889.5,230.9 889.5,236.1 895,233.5 889.5,230.9" fill="#fff" stroke="#000000" stroke-width="1.15" stroke-linejoin="miter" stroke-linecap="butt"/>
<polygon points="889.5,253.9 889.5,259.1 895,256.5 889.5,253.9" fill="#fff" stroke="#000000" stroke-width="1.15" stroke-linejoin="miter" stroke-linecap="butt"/>
<polyline points="860.5,233.5 860.5,303.5 964.5,303.5" fill="none" stroke="#000080" stroke-width="1" stroke-linejoin="miter" stroke-linecap="butt"/>
<text x="886.5" y="230.5" fill="#2a2a2a" font-size="10" text-anchor="end" font-weight="normal">6</text>
<text x="886.5" y="253.5" fill="#2a2a2a" font-size="10" text-anchor="end" font-weight="normal">5</text>
<polyline points="918.5,187.5 918.5,198.5" fill="none" stroke="#800000" stroke-width="1" stroke-linejoin="miter" stroke-linecap="butt"/>
<line x1="912.25" y1="187.5" x2="924.75" y2="187.5" stroke="#800000" stroke-width="1" stroke-linecap="butt"/>
<text x="918.5" y="183.5" fill="#800000" font-size="10.3" text-anchor="middle" font-weight="normal">+5</text>
<polyline points="918.5,198.5 918.5,233.3" fill="none" stroke="#0a0ab4" stroke-width="1" stroke-linejoin="miter" stroke-linecap="butt"/>
<polyline points="918.5,256.6 918.5,349.5" fill="none" stroke="#0a0ab4" stroke-width="1" stroke-linejoin="miter" stroke-linecap="butt"/>
<text x="915.5" y="210" fill="#2a2a2a" font-size="10" text-anchor="middle" font-weight="normal" transform="rotate(-90 915.5 210)">8</text>
<text x="915.5" y="280" fill="#2a2a2a" font-size="10" text-anchor="middle" font-weight="normal" transform="rotate(-90 915.5 280)">4</text>
<circle cx="918.5" cy="198.5" r="2.6" fill="#000080"/>
<polyline points="918.5,198.5 934.5,198.5" fill="none" stroke="#000080" stroke-width="1" stroke-linejoin="miter" stroke-linecap="butt"/>
<line x1="934.5" y1="189" x2="934.5" y2="208" stroke="#0a0ab4" stroke-width="1.3" stroke-linecap="butt"/>
<line x1="938.5" y1="189" x2="938.5" y2="208" stroke="#0a0ab4" stroke-width="1.3" stroke-linecap="butt"/>
<polyline points="938.5,198.5 999.5,198.5 999.5,209.7" fill="none" stroke="#000080" stroke-width="1" stroke-linejoin="miter" stroke-linecap="butt"/>
<line x1="999.5" y1="198.5" x2="999.5" y2="209.5" stroke="#800000" stroke-width="1" stroke-linecap="butt"/>
<polygon points="987.5,209.5 1011.5,209.5 999.5,220 987.5,209.5" fill="none" stroke="#800000" stroke-width="1.1" stroke-linejoin="miter" stroke-linecap="butt"/>
<text x="999.5" y="230.5" fill="#800000" font-size="10.3" text-anchor="middle" font-weight="normal">GND</text>
<text x="928.5" y="185.6" fill="#1a1a80" font-size="10.3" text-anchor="start" font-weight="normal">C307</text>
<text x="928.5" y="219.6" fill="#1a1a80" font-size="10.3" text-anchor="start" font-weight="normal">U302B</text>
<text x="928.5" y="230.7" fill="#1a1a80" font-size="10.3" text-anchor="start" font-weight="normal">LM358AM</text>
<polyline points="941.3,245.5 964.5,245.5" fill="none" stroke="#000000" stroke-width="1" stroke-linejoin="miter" stroke-linecap="butt"/>
<polygon points="941.3,242.9 941.3,248.1 946.8,245.5 941.3,242.9" fill="#fff" stroke="#000000" stroke-width="1.15" stroke-linejoin="miter" stroke-linecap="butt"/>
<text x="950" y="242.5" fill="#2a2a2a" font-size="10" text-anchor="start" font-weight="normal">7</text>
<polyline points="964.5,245.5 1034.5,245.5 1034.5,268.5" fill="none" stroke="#000080" stroke-width="1" stroke-linejoin="miter" stroke-linecap="butt"/>
<circle cx="964.5" cy="245.5" r="2.6" fill="#000080"/>
<circle cx="999.5" cy="245.5" r="2.6" fill="#000080"/>
<rect x="960.5" y="268.3" width="8" height="22.5" fill="none" stroke="#0a0ab4" stroke-width="1"/>
<rect x="995.5" y="268.3" width="8" height="22.5" fill="none" stroke="#0a0ab4" stroke-width="1"/>
<rect x="1030.5" y="268.3" width="8" height="22.5" fill="none" stroke="#0a0ab4" stroke-width="1"/>
<polyline points="964.5,245.5 964.5,268.3" fill="none" stroke="#000080" stroke-width="1" stroke-linejoin="miter" stroke-linecap="butt"/>
<polyline points="999.5,245.5 999.5,268.3" fill="none" stroke="#000080" stroke-width="1" stroke-linejoin="miter" stroke-linecap="butt"/>
<polyline points="964.5,290.8 964.5,314.2" fill="none" stroke="#000080" stroke-width="1" stroke-linejoin="miter" stroke-linecap="butt"/>
<rect x="960.5" y="314.2" width="8" height="23" fill="none" stroke="#0a0ab4" stroke-width="1"/>
<polyline points="964.5,337.2 964.5,349.5" fill="none" stroke="#000080" stroke-width="1" stroke-linejoin="miter" stroke-linecap="butt"/>
<polyline points="999.5,290.8 999.5,349.5" fill="none" stroke="#000080" stroke-width="1" stroke-linejoin="miter" stroke-linecap="butt"/>
<polyline points="1034.5,290.8 1034.5,318.4" fill="none" stroke="#000080" stroke-width="1" stroke-linejoin="miter" stroke-linecap="butt"/>
<line x1="1025.5" y1="318.5" x2="1043.5" y2="318.5" stroke="#0a0ab4" stroke-width="1.3" stroke-linecap="butt"/>
<line x1="1025.5" y1="322.5" x2="1043.5" y2="322.5" stroke="#0a0ab4" stroke-width="1.3" stroke-linecap="butt"/>
<polyline points="1034.5,322.4 1034.5,349.5" fill="none" stroke="#000080" stroke-width="1" stroke-linejoin="miter" stroke-linecap="butt"/>
<circle cx="964.5" cy="303.5" r="2.6" fill="#000080"/>
<circle cx="1034.5" cy="303.5" r="2.6" fill="#000080"/>
<text x="969" y="277.3" fill="#1a1a80" font-size="10.3" text-anchor="start" font-weight="normal">R305</text>
<text x="969" y="288.9" fill="#1a1a80" font-size="10.3" text-anchor="start" font-weight="normal">10k</text>
<text x="1004" y="277.3" fill="#1a1a80" font-size="10.3" text-anchor="start" font-weight="normal">R306</text>
<text x="1004" y="288.9" fill="#1a1a80" font-size="10.3" text-anchor="start" font-weight="normal">10k</text>
<text x="1039.5" y="277.3" fill="#1a1a80" font-size="10.3" text-anchor="start" font-weight="normal">R307</text>
<text x="1039.5" y="288.9" fill="#1a1a80" font-size="10.3" text-anchor="start" font-weight="normal">10k</text>
<text x="969" y="323.8" fill="#1a1a80" font-size="10.3" text-anchor="start" font-weight="normal">R304</text>
<text x="969" y="335.4" fill="#1a1a80" font-size="10.3" text-anchor="start" font-weight="normal">10k</text>
<text x="1037" y="332" fill="#1a1a80" font-size="10.3" text-anchor="start" font-weight="normal">C304</text>
<polyline points="1034.5,303.5 1080,303.5" fill="none" stroke="#000080" stroke-width="1" stroke-linejoin="miter" stroke-linecap="butt"/>
<polygon points="1080.5,297.5 1156.8,297.5 1162.6,303.5 1156.8,309.5 1080.5,309.5" fill="#faf07a" stroke="#6a1a00" stroke-width="1.15" stroke-linejoin="miter" stroke-linecap="butt"/>
<text x="1092.5" y="306.6" fill="#6e4208" font-size="10.3" text-anchor="start" font-weight="normal" letter-spacing="0.2" stroke="#6e4208" stroke-width="0.25">I-SENSE_L</text>
<polygon points="117.5,634.5 193.7,634.5 197.7,640 193.7,645.5 117.5,645.5" fill="#faf07a" stroke="#6a1a00" stroke-width="1.15" stroke-linejoin="miter" stroke-linecap="butt"/>
<polygon points="117.5,645.5 193.7,645.5 197.7,651.5 193.7,657.5 117.5,657.5" fill="#faf07a" stroke="#6a1a00" stroke-width="1.15" stroke-linejoin="miter" stroke-linecap="butt"/>
<text x="129.2" y="642.9" fill="#6e4208" font-size="10.3" text-anchor="start" font-weight="normal" letter-spacing="0.2" stroke="#6e4208" stroke-width="0.25">RGHT-FWD</text>
<text x="129.2" y="654.5" fill="#6e4208" font-size="10.3" text-anchor="start" font-weight="normal" letter-spacing="0.2" stroke="#6e4208" stroke-width="0.25">RGHT-REV</text>
<polyline points="198,639.5 419.5,639.5" fill="none" stroke="#000080" stroke-width="1" stroke-linejoin="miter" stroke-linecap="butt"/>
<polyline points="198,651.5 419.5,651.5" fill="none" stroke="#000080" stroke-width="1" stroke-linejoin="miter" stroke-linecap="butt"/>
<rect x="442.5" y="628.5" width="80" height="126" fill="#fffab4" stroke="#7a1a00" stroke-width="1.2"/>
<polyline points="419.5,639.5 442.5,639.5" fill="none" stroke="#000000" stroke-width="1" stroke-linejoin="miter" stroke-linecap="butt"/>
<polygon points="436.5,636.9 436.5,642.1 442,639.5 436.5,636.9" fill="#fff" stroke="#000000" stroke-width="1.15" stroke-linejoin="miter" stroke-linecap="butt"/>
<text x="451" y="642.5" fill="#000000" font-size="10.3" text-anchor="start" font-weight="normal">IN1</text>
<polyline points="419.5,651.5 442.5,651.5" fill="none" stroke="#000000" stroke-width="1" stroke-linejoin="miter" stroke-linecap="butt"/>
<polygon points="436.5,648.9 436.5,654.1 442,651.5 436.5,648.9" fill="#fff" stroke="#000000" stroke-width="1.15" stroke-linejoin="miter" stroke-linecap="butt"/>
<text x="451" y="654.5" fill="#000000" font-size="10.3" text-anchor="start" font-weight="normal">IN2</text>
<polyline points="419.5,662.5 442.5,662.5" fill="none" stroke="#000000" stroke-width="1" stroke-linejoin="miter" stroke-linecap="butt"/>
<polygon points="436.5,659.9 436.5,665.1 442,662.5 436.5,659.9" fill="#fff" stroke="#000000" stroke-width="1.15" stroke-linejoin="miter" stroke-linecap="butt"/>
<text x="451" y="665.5" fill="#000000" font-size="10.3" text-anchor="start" font-weight="normal">IN3</text>
<polyline points="419.5,674.5 442.5,674.5" fill="none" stroke="#000000" stroke-width="1" stroke-linejoin="miter" stroke-linecap="butt"/>
<polygon points="436.5,671.9 436.5,677.1 442,674.5 436.5,671.9" fill="#fff" stroke="#000000" stroke-width="1.15" stroke-linejoin="miter" stroke-linecap="butt"/>
<text x="451" y="677.5" fill="#000000" font-size="10.3" text-anchor="start" font-weight="normal">IN4</text>
<polyline points="419.5,697.5 442.5,697.5" fill="none" stroke="#000000" stroke-width="1" stroke-linejoin="miter" stroke-linecap="butt"/>
<polygon points="436.5,694.9 436.5,700.1 442,697.5 436.5,694.9" fill="#fff" stroke="#000000" stroke-width="1.15" stroke-linejoin="miter" stroke-linecap="butt"/>
<text x="451" y="700.5" fill="#000000" font-size="10.3" text-anchor="start" font-weight="normal">EN A</text>
<polyline points="419.5,709.5 442.5,709.5" fill="none" stroke="#000000" stroke-width="1" stroke-linejoin="miter" stroke-linecap="butt"/>
<polygon points="436.5,706.9 436.5,712.1 442,709.5 436.5,706.9" fill="#fff" stroke="#000000" stroke-width="1.15" stroke-linejoin="miter" stroke-linecap="butt"/>
<text x="451" y="712.5" fill="#000000" font-size="10.3" text-anchor="start" font-weight="normal">EN B</text>
<polyline points="419.5,744.5 442.5,744.5" fill="none" stroke="#000000" stroke-width="1" stroke-linejoin="miter" stroke-linecap="butt"/>
<text x="451" y="747.5" fill="#000000" font-size="10.3" text-anchor="start" font-weight="normal">GND</text>
<text x="433.5" y="636.5" fill="#2a2a2a" font-size="10" text-anchor="end" font-weight="normal">5</text>
<text x="433.5" y="648.5" fill="#2a2a2a" font-size="10" text-anchor="end" font-weight="normal">7</text>
<text x="433.5" y="659.5" fill="#2a2a2a" font-size="10" text-anchor="end" font-weight="normal">10</text>
<text x="433.5" y="671.5" fill="#2a2a2a" font-size="10" text-anchor="end" font-weight="normal">12</text>
<text x="433.5" y="694.5" fill="#2a2a2a" font-size="10" text-anchor="end" font-weight="normal">6</text>
<text x="433.5" y="706.5" fill="#2a2a2a" font-size="10" text-anchor="end" font-weight="normal">11</text>
<text x="433.5" y="741.5" fill="#2a2a2a" font-size="10" text-anchor="end" font-weight="normal">8</text>
<polyline points="522.5,639.5 547.5,639.5" fill="none" stroke="#000000" stroke-width="1" stroke-linejoin="miter" stroke-linecap="butt"/>
<text x="514" y="642.5" fill="#000000" font-size="10.3" text-anchor="end" font-weight="normal">VSS</text>
<polyline points="522.5,651.5 547.5,651.5" fill="none" stroke="#000000" stroke-width="1" stroke-linejoin="miter" stroke-linecap="butt"/>
<text x="514" y="654.5" fill="#000000" font-size="10.3" text-anchor="end" font-weight="normal">VS</text>
<polyline points="522.5,674.5 547.5,674.5" fill="none" stroke="#000000" stroke-width="1" stroke-linejoin="miter" stroke-linecap="butt"/>
<polygon points="523,671.9 523,677.1 528.5,674.5 523,671.9" fill="#fff" stroke="#000000" stroke-width="1.15" stroke-linejoin="miter" stroke-linecap="butt"/>
<text x="514" y="677.5" fill="#000000" font-size="10.3" text-anchor="end" font-weight="normal">OUT1</text>
<polyline points="522.5,686.5 547.5,686.5" fill="none" stroke="#000000" stroke-width="1" stroke-linejoin="miter" stroke-linecap="butt"/>
<polygon points="523,683.9 523,689.1 528.5,686.5 523,683.9" fill="#fff" stroke="#000000" stroke-width="1.15" stroke-linejoin="miter" stroke-linecap="butt"/>
<text x="514" y="689.5" fill="#000000" font-size="10.3" text-anchor="end" font-weight="normal">OUT2</text>
<polyline points="522.5,697.5 547.5,697.5" fill="none" stroke="#000000" stroke-width="1" stroke-linejoin="miter" stroke-linecap="butt"/>
<polygon points="523,694.9 523,700.1 528.5,697.5 523,694.9" fill="#fff" stroke="#000000" stroke-width="1.15" stroke-linejoin="miter" stroke-linecap="butt"/>
<text x="514" y="700.5" fill="#000000" font-size="10.3" text-anchor="end" font-weight="normal">OUT3</text>
<polyline points="522.5,709.5 547.5,709.5" fill="none" stroke="#000000" stroke-width="1" stroke-linejoin="miter" stroke-linecap="butt"/>
<polygon points="523,706.9 523,712.1 528.5,709.5 523,706.9" fill="#fff" stroke="#000000" stroke-width="1.15" stroke-linejoin="miter" stroke-linecap="butt"/>
<text x="514" y="712.5" fill="#000000" font-size="10.3" text-anchor="end" font-weight="normal">OUT4</text>
<polyline points="522.5,732.5 547.5,732.5" fill="none" stroke="#000000" stroke-width="1" stroke-linejoin="miter" stroke-linecap="butt"/>
<text x="514" y="735.5" fill="#000000" font-size="10.3" text-anchor="end" font-weight="normal">ISEN A</text>
<polyline points="522.5,744.5 547.5,744.5" fill="none" stroke="#000000" stroke-width="1" stroke-linejoin="miter" stroke-linecap="butt"/>
<text x="514" y="747.5" fill="#000000" font-size="10.3" text-anchor="end" font-weight="normal">ISEN B</text>
<text x="532.5" y="636.5" fill="#2a2a2a" font-size="10" text-anchor="start" font-weight="normal">9</text>
<text x="532.5" y="648.5" fill="#2a2a2a" font-size="10" text-anchor="start" font-weight="normal">4</text>
<text x="532.5" y="671.5" fill="#2a2a2a" font-size="10" text-anchor="start" font-weight="normal">2</text>
<text x="532.5" y="683.5" fill="#2a2a2a" font-size="10" text-anchor="start" font-weight="normal">3</text>
<text x="532.5" y="694.5" fill="#2a2a2a" font-size="10" text-anchor="start" font-weight="normal">13</text>
<text x="532.5" y="706.5" fill="#2a2a2a" font-size="10" text-anchor="start" font-weight="normal">14</text>
<text x="532.5" y="729.5" fill="#2a2a2a" font-size="10" text-anchor="start" font-weight="normal">1</text>
<text x="532.5" y="741.5" fill="#2a2a2a" font-size="10" text-anchor="start" font-weight="normal">15</text>
<text x="442.5" y="625" fill="#1a1a80" font-size="10.3" text-anchor="start" font-weight="normal">U303</text>
<text x="442.5" y="764.8" fill="#1a1a80" font-size="10.3" text-anchor="start" font-weight="normal">L298N</text>
<g stroke="#b01818" stroke-width="1" stroke-dasharray="1.1,1.7" opacity="0.85"><line x1="543" y1="670" x2="552" y2="679"/><line x1="543" y1="679" x2="552" y2="670"/></g>
<rect x="546.5" y="673.5" width="2" height="2" fill="#e01010"/>
<g stroke="#b01818" stroke-width="1" stroke-dasharray="1.1,1.7" opacity="0.85"><line x1="543" y1="682" x2="552" y2="691"/><line x1="543" y1="691" x2="552" y2="682"/></g>
<rect x="546.5" y="685.5" width="2" height="2" fill="#e01010"/>
<g stroke="#b01818" stroke-width="1" stroke-dasharray="1.1,1.7" opacity="0.85"><line x1="543" y1="693" x2="552" y2="702"/><line x1="543" y1="702" x2="552" y2="693"/></g>
<rect x="546.5" y="696.5" width="2" height="2" fill="#e01010"/>
<g stroke="#b01818" stroke-width="1" stroke-dasharray="1.1,1.7" opacity="0.85"><line x1="543" y1="705" x2="552" y2="714"/><line x1="543" y1="714" x2="552" y2="705"/></g>
<rect x="546.5" y="708.5" width="2" height="2" fill="#e01010"/>
<line x1="320.25" y1="558.5" x2="332.75" y2="558.5" stroke="#800000" stroke-width="1" stroke-linecap="butt"/>
<text x="326.5" y="554.5" fill="#800000" font-size="10.3" text-anchor="middle" font-weight="normal">+5</text>
<polyline points="326.5,558.5 326.5,566.5" fill="none" stroke="#800000" stroke-width="1" stroke-linejoin="miter" stroke-linecap="butt"/>
<polyline points="326.5,566.5 326.5,593.5" fill="none" stroke="#000080" stroke-width="1" stroke-linejoin="miter" stroke-linecap="butt"/>
<rect x="322.5" y="593.5" width="8" height="22" fill="none" stroke="#0a0ab4" stroke-width="1"/>
<polyline points="326.5,616.5 326.5,733.5" fill="none" stroke="#000080" stroke-width="1" stroke-linejoin="miter" stroke-linecap="butt"/>
<polyline points="326.5,570.5 407.5,570.5 407.5,593.5" fill="none" stroke="#000080" stroke-width="1" stroke-linejoin="miter" stroke-linecap="butt"/>
<polyline points="373.5,570.5 373.5,593.5" fill="none" stroke="#000080" stroke-width="1" stroke-linejoin="miter" stroke-linecap="butt"/>
<rect x="368.5" y="593.5" width="8" height="22" fill="none" stroke="#0a0ab4" stroke-width="1"/>
<rect x="403.5" y="593.5" width="8" height="22" fill="none" stroke="#0a0ab4" stroke-width="1"/>
<polyline points="373.5,616.5 373.5,674.5 419.5,674.5" fill="none" stroke="#000080" stroke-width="1" stroke-linejoin="miter" stroke-linecap="butt"/>
<polyline points="407.5,616.5 407.5,662.5 419.5,662.5" fill="none" stroke="#000080" stroke-width="1" stroke-linejoin="miter" stroke-linecap="butt"/>
<polyline points="407.5,697.5 407.5,709.5" fill="none" stroke="#000080" stroke-width="1" stroke-linejoin="miter" stroke-linecap="butt"/>
<polyline points="407.5,697.5 419.5,697.5" fill="none" stroke="#000080" stroke-width="1" stroke-linejoin="miter" stroke-linecap="butt"/>
<polyline points="326.5,709.5 419.5,709.5" fill="none" stroke="#000080" stroke-width="1" stroke-linejoin="miter" stroke-linecap="butt"/>
<circle cx="326.5" cy="570.5" r="2.6" fill="#000080"/>
<circle cx="373.5" cy="570.5" r="2.6" fill="#000080"/>
<circle cx="373.5" cy="639.5" r="2.6" fill="#000080"/>
<circle cx="407.5" cy="651.5" r="2.6" fill="#000080"/>
<circle cx="326.5" cy="709.5" r="2.6" fill="#000080"/>
<circle cx="361.5" cy="709.5" r="2.6" fill="#000080"/>
<circle cx="407.5" cy="709.5" r="2.6" fill="#000080"/>
<text x="331.5" y="602.2" fill="#1a1a80" font-size="10.3" text-anchor="start" font-weight="normal">R314</text>
<text x="331.5" y="613.2" fill="#1a1a80" font-size="10.3" text-anchor="start" font-weight="normal">1k</text>
<text x="377.5" y="602.2" fill="#1a1a80" font-size="10.3" text-anchor="start" font-weight="normal">R053</text>
<text x="377.5" y="613.2" fill="#1a1a80" font-size="10.3" text-anchor="start" font-weight="normal">6k8</text>
<text x="412.3" y="602.2" fill="#1a1a80" font-size="10.3" text-anchor="start" font-weight="normal">R054</text>
<text x="412.3" y="613.2" fill="#1a1a80" font-size="10.3" text-anchor="start" font-weight="normal">6k8</text>
<line x1="315.5" y1="734.5" x2="315.5" y2="754.5" stroke="#0a0ab4" stroke-width="1.4" stroke-linecap="butt"/>
<line x1="315.5" y1="740.5" x2="326.5" y2="734" stroke="#0a0ab4" stroke-width="1.2" stroke-linecap="butt"/>
<line x1="315.5" y1="749.5" x2="324.5" y2="755.5" stroke="#0a0ab4" stroke-width="1.2" stroke-linecap="butt"/>
<polygon points="327,757 319,754.3 323,749" fill="#1e32e6" stroke="#1e32e6" stroke-width="0.6" stroke-linejoin="miter" stroke-linecap="butt"/>
<polyline points="280.5,744.5 315.5,744.5" fill="none" stroke="#000000" stroke-width="1" stroke-linejoin="miter" stroke-linecap="butt"/>
<polyline points="326.5,734 326.5,733.5" fill="none" stroke="#000000" stroke-width="1" stroke-linejoin="miter" stroke-linecap="butt"/>
<polyline points="326.5,756 326.5,790.9" fill="none" stroke="#000080" stroke-width="1" stroke-linejoin="miter" stroke-linecap="butt"/>
<line x1="326.5" y1="779.5" x2="326.5" y2="790.5" stroke="#800000" stroke-width="1" stroke-linecap="butt"/>
<polygon points="314.5,790.5 338.5,790.5 326.5,801 314.5,790.5" fill="none" stroke="#800000" stroke-width="1.1" stroke-linejoin="miter" stroke-linecap="butt"/>
<text x="326.5" y="810.8" fill="#800000" font-size="10.3" text-anchor="middle" font-weight="normal">GND</text>
<text x="329.5" y="740" fill="#1a1a80" font-size="10.3" text-anchor="start" font-weight="normal">Q302</text>
<text x="329.5" y="751.2" fill="#1a1a80" font-size="10.3" text-anchor="start" font-weight="normal">NPN</text>
<polyline points="361.5,709.5 361.5,735.9" fill="none" stroke="#000080" stroke-width="1" stroke-linejoin="miter" stroke-linecap="butt"/>
<line x1="352.5" y1="735.5" x2="370.5" y2="735.5" stroke="#0a0ab4" stroke-width="1.3" stroke-linecap="butt"/>
<line x1="352.5" y1="740.5" x2="370.5" y2="740.5" stroke="#0a0ab4" stroke-width="1.3" stroke-linecap="butt"/>
<polyline points="361.5,740.9 361.5,790.9" fill="none" stroke="#000080" stroke-width="1" stroke-linejoin="miter" stroke-linecap="butt"/>
<line x1="361.5" y1="779.5" x2="361.5" y2="790.5" stroke="#800000" stroke-width="1" stroke-linecap="butt"/>
<polygon points="349.5,790.5 373.5,790.5 361.5,801 349.5,790.5" fill="none" stroke="#800000" stroke-width="1.1" stroke-linejoin="miter" stroke-linecap="butt"/>
<text x="361.5" y="810.8" fill="#800000" font-size="10.3" text-anchor="middle" font-weight="normal">GND</text>
<text x="365" y="752.8" fill="#1a1a80" font-size="10.3" text-anchor="start" font-weight="normal">C310</text>
<rect x="257.5" y="740.5" width="22" height="8" fill="none" stroke="#0a0ab4" stroke-width="1"/>
<polyline points="279.5,744.5 280.5,744.5" fill="none" stroke="#000080" stroke-width="1" stroke-linejoin="miter" stroke-linecap="butt"/>
<text x="258.5" y="735.6" fill="#1a1a80" font-size="10.3" text-anchor="start" font-weight="normal">R318</text>
<text x="258.5" y="757.8" fill="#1a1a80" font-size="10.3" text-anchor="start" font-weight="normal">1k</text>
<polyline points="442.5,744.5 419.5,744.5 419.5,755.7" fill="none" stroke="#000000" stroke-width="1" stroke-linejoin="miter" stroke-linecap="butt"/>
<line x1="419.5" y1="744.5" x2="419.5" y2="755.5" stroke="#800000" stroke-width="1" stroke-linecap="butt"/>
<polygon points="407.5,755.5 431.5,755.5 419.5,766 407.5,755.5" fill="none" stroke="#800000" stroke-width="1.1" stroke-linejoin="miter" stroke-linecap="butt"/>
<text x="419.5" y="776" fill="#800000" font-size="10.3" text-anchor="middle" font-weight="normal">GND</text>
<polyline points="547.5,639.5 547.5,593.5" fill="none" stroke="#000080" stroke-width="1" stroke-linejoin="miter" stroke-linecap="butt"/>
<polyline points="547.5,593.5 547.5,581.5" fill="none" stroke="#800000" stroke-width="1" stroke-linejoin="miter" stroke-linecap="butt"/>
<line x1="541.25" y1="581.5" x2="553.75" y2="581.5" stroke="#800000" stroke-width="1" stroke-linecap="butt"/>
<text x="547.5" y="577.5" fill="#800000" font-size="10.3" text-anchor="middle" font-weight="normal">+5</text>
<circle cx="547.5" cy="593.5" r="2.6" fill="#000080"/>
<text x="488.5" y="591" fill="#1a1a80" font-size="10.3" text-anchor="start" font-weight="normal">C316</text>
<polyline points="547.5,593.5 520.5,593.5" fill="none" stroke="#000080" stroke-width="1" stroke-linejoin="miter" stroke-linecap="butt"/>
<line x1="515.5" y1="584.5" x2="515.5" y2="602.5" stroke="#0a0ab4" stroke-width="1.3" stroke-linecap="butt"/>
<line x1="520.5" y1="584.5" x2="520.5" y2="602.5" stroke="#0a0ab4" stroke-width="1.3" stroke-linecap="butt"/>
<polyline points="515.5,593.5 489.5,593.5 489.5,604.6" fill="none" stroke="#000080" stroke-width="1" stroke-linejoin="miter" stroke-linecap="butt"/>
<line x1="489.5" y1="592.5" x2="489.5" y2="604.5" stroke="#800000" stroke-width="1" stroke-linecap="butt"/>
<polygon points="477.5,604.5 501.5,604.5 489.5,615 477.5,604.5" fill="none" stroke="#800000" stroke-width="1.1" stroke-linejoin="miter" stroke-linecap="butt"/>
<text x="489.5" y="625" fill="#800000" font-size="10.3" text-anchor="middle" font-weight="normal">GND</text>
<polyline points="663.5,651.5 663.5,639.5" fill="none" stroke="#800000" stroke-width="1" stroke-linejoin="miter" stroke-linecap="butt"/>
<polyline points="547.5,651.5 663.5,651.5" fill="none" stroke="#000080" stroke-width="3.2" stroke-linejoin="round" stroke-linecap="butt"/>
<circle cx="605.5" cy="651.5" r="3.4" fill="#000080"/>
<circle cx="663.5" cy="651.5" r="3.4" fill="#000080"/>
<line x1="657.5" y1="639.5" x2="669.5" y2="639.5" stroke="#800000" stroke-width="1" stroke-linecap="butt"/>
<text x="663.5" y="635.5" fill="#800000" font-size="10.3" text-anchor="middle" font-weight="normal">+MOTOR</text>
<polyline points="605.5,651.5 605.5,662.7" fill="none" stroke="#000000" stroke-width="1" stroke-linejoin="miter" stroke-linecap="butt"/>
<line x1="596" y1="662.5" x2="615" y2="662.5" stroke="#0a0ab4" stroke-width="1.3" stroke-linecap="butt"/>
<path d="M597,670.4 Q605.5,665.4 614,670.4" fill="none" stroke="#0a0ab4" stroke-width="1.3"/>
<line x1="608.5" y1="657" x2="613.5" y2="657" stroke="#0a0ab4" stroke-width="1.3" stroke-linecap="butt"/>
<line x1="611" y1="654.5" x2="611" y2="659.5" stroke="#0a0ab4" stroke-width="1.3" stroke-linecap="butt"/>
<polyline points="605.5,667.9 605.5,697.6" fill="none" stroke="#000000" stroke-width="1" stroke-linejoin="miter" stroke-linecap="butt"/>
<line x1="605.5" y1="686.5" x2="605.5" y2="697.5" stroke="#800000" stroke-width="1" stroke-linecap="butt"/>
<polygon points="593.5,697.5 617.5,697.5 605.5,708 593.5,697.5" fill="none" stroke="#800000" stroke-width="1.1" stroke-linejoin="miter" stroke-linecap="butt"/>
<text x="605.5" y="718" fill="#800000" font-size="10.3" text-anchor="middle" font-weight="normal">GND</text>
<text x="608" y="679.9" fill="#1a1a80" font-size="10.3" text-anchor="start" font-weight="normal">C314</text>
<text x="608" y="690.4" fill="#1a1a80" font-size="10.3" text-anchor="start" font-weight="normal">10uF/50V</text>
<polyline points="663.5,651.5 663.5,665.9" fill="none" stroke="#000000" stroke-width="1" stroke-linejoin="miter" stroke-linecap="butt"/>
<line x1="654" y1="665.5" x2="673" y2="665.5" stroke="#0a0ab4" stroke-width="1.3" stroke-linecap="butt"/>
<line x1="654" y1="670.5" x2="673" y2="670.5" stroke="#0a0ab4" stroke-width="1.3" stroke-linecap="butt"/>
<polyline points="663.5,670.9 663.5,697.6" fill="none" stroke="#000000" stroke-width="1" stroke-linejoin="miter" stroke-linecap="butt"/>
<line x1="663.5" y1="686.5" x2="663.5" y2="697.5" stroke="#800000" stroke-width="1" stroke-linecap="butt"/>
<polygon points="651.5,697.5 675.5,697.5 663.5,708 651.5,697.5" fill="none" stroke="#800000" stroke-width="1.1" stroke-linejoin="miter" stroke-linecap="butt"/>
<text x="663.5" y="718" fill="#800000" font-size="10.3" text-anchor="middle" font-weight="normal">GND</text>
<text x="663" y="683.4" fill="#1a1a80" font-size="10.3" text-anchor="start" font-weight="normal">C313</text>
<polyline points="547.5,674.5 570.5,674.5" fill="none" stroke="#000080" stroke-width="3.2" stroke-linejoin="round" stroke-linecap="butt"/>
<polyline points="570.5,500.5 570.5,709.5 547.5,709.5" fill="none" stroke="#000080" stroke-width="3.2" stroke-linejoin="round" stroke-linecap="butt"/>
<polyline points="581.5,500.5 581.5,686.5 547.5,686.5" fill="none" stroke="#000080" stroke-width="3.2" stroke-linejoin="round" stroke-linecap="butt"/>
<polyline points="558.5,686.5 558.5,697.5 547.5,697.5" fill="none" stroke="#000080" stroke-width="3.2" stroke-linejoin="round" stroke-linecap="butt"/>
<circle cx="570.5" cy="674.5" r="3.4" fill="#000080"/>
<circle cx="558.5" cy="686.5" r="3.4" fill="#000080"/>
<polyline points="547.5,732.5 547.5,744.5" fill="none" stroke="#000080" stroke-width="3.2" stroke-linejoin="round" stroke-linecap="butt"/>
<circle cx="547.5" cy="732.5" r="3.4" fill="#000080"/>
<rect x="558.5" y="442.5" width="34" height="34" fill="#fffab4" stroke="#7a1a00" stroke-width="1.2"/>
<text x="558.5" y="440.1" fill="#1a1a80" font-size="10.3" text-anchor="start" font-weight="normal">GO-R</text>
<text x="573.5" y="465.9" fill="#2a2a2a" font-size="9.5" text-anchor="middle" font-weight="normal" transform="rotate(-90 573.5 465.9)">1</text>
<text x="584.5" y="465.9" fill="#2a2a2a" font-size="9.5" text-anchor="middle" font-weight="normal" transform="rotate(-90 584.5 465.9)">2</text>
<polyline points="570.5,476.5 570.5,500.5" fill="none" stroke="#000000" stroke-width="1" stroke-linejoin="miter" stroke-linecap="butt"/>
<polyline points="581.5,476.5 581.5,500.5" fill="none" stroke="#000000" stroke-width="1" stroke-linejoin="miter" stroke-linecap="butt"/>
<circle cx="570.5" cy="500.5" r="3.4" fill="#000080"/>
<circle cx="581.5" cy="500.5" r="3.4" fill="#000080"/>
<circle cx="570.5" cy="546.5" r="3" fill="#000080"/>
<circle cx="581.5" cy="546.5" r="3" fill="#000080"/>
<polygon points="501,489 501,512 490.5,500.5" fill="none" stroke="#800000" stroke-width="1" stroke-linejoin="miter" stroke-linecap="butt"/>
<text x="487.5" y="504" fill="#800000" font-size="10.3" text-anchor="end" font-weight="normal">GND</text>
<polyline points="500.5,500.5 510,500.5" fill="none" stroke="#800000" stroke-width="1" stroke-linejoin="miter" stroke-linecap="butt"/>
<polyline points="510,500.5 535.2,500.5" fill="none" stroke="#000000" stroke-width="1" stroke-linejoin="miter" stroke-linecap="butt"/>
<polygon points="535.2,489.5 535.2,511.5 547.5,500.5" fill="#1e32e6" stroke="#1e32e6" stroke-width="1" stroke-linejoin="miter" stroke-linecap="butt"/>
<line x1="547.5" y1="489.5" x2="547.5" y2="511.5" stroke="#0a0ab4" stroke-width="1.2" stroke-linecap="butt"/>
<polyline points="547.5,500.5 570.5,500.5" fill="none" stroke="#000000" stroke-width="1" stroke-linejoin="miter" stroke-linecap="butt"/>
<polyline points="581.5,500.5 605.5,500.5" fill="none" stroke="#000000" stroke-width="1" stroke-linejoin="miter" stroke-linecap="butt"/>
<polygon points="616.6,489.5 616.6,511.5 605.5,500.5" fill="#1e32e6" stroke="#1e32e6" stroke-width="1" stroke-linejoin="miter" stroke-linecap="butt"/>
<line x1="605.5" y1="489.5" x2="605.5" y2="511.5" stroke="#0a0ab4" stroke-width="1.2" stroke-linecap="butt"/>
<polyline points="616.6,500.5 641,500.5" fill="none" stroke="#000000" stroke-width="1" stroke-linejoin="miter" stroke-linecap="butt"/>
<polyline points="641,500.5 651.3,500.5" fill="none" stroke="#800000" stroke-width="1" stroke-linejoin="miter" stroke-linecap="butt"/>
<polygon points="651.5,489 651.5,512 662,500.5" fill="none" stroke="#800000" stroke-width="1" stroke-linejoin="miter" stroke-linecap="butt"/>
<text x="664.5" y="504" fill="#800000" font-size="10.3" text-anchor="start" font-weight="normal">GND</text>
<line x1="500.5" y1="541" x2="500.5" y2="552" stroke="#800000" stroke-width="1" stroke-linecap="butt"/>
<text x="497.5" y="550" fill="#800000" font-size="10.3" text-anchor="end" font-weight="normal">+MOTOR</text>
<polyline points="500.5,546.5 510,546.5" fill="none" stroke="#800000" stroke-width="1" stroke-linejoin="miter" stroke-linecap="butt"/>
<polyline points="510,546.5 535.2,546.5" fill="none" stroke="#000000" stroke-width="1" stroke-linejoin="miter" stroke-linecap="butt"/>
<polygon points="547.5,535.5 547.5,557.5 535.2,546.5" fill="#1e32e6" stroke="#1e32e6" stroke-width="1" stroke-linejoin="miter" stroke-linecap="butt"/>
<line x1="535.5" y1="535.5" x2="535.5" y2="557.5" stroke="#0a0ab4" stroke-width="1.2" stroke-linecap="butt"/>
<polyline points="547.5,546.5 570.5,546.5" fill="none" stroke="#000000" stroke-width="1" stroke-linejoin="miter" stroke-linecap="butt"/>
<polyline points="581.5,546.5 605.5,546.5" fill="none" stroke="#000000" stroke-width="1" stroke-linejoin="miter" stroke-linecap="butt"/>
<polygon points="605.5,535.5 605.5,557.5 616.6,546.5" fill="#1e32e6" stroke="#1e32e6" stroke-width="1" stroke-linejoin="miter" stroke-linecap="butt"/>
<line x1="616.5" y1="535.5" x2="616.5" y2="557.5" stroke="#0a0ab4" stroke-width="1.2" stroke-linecap="butt"/>
<polyline points="616.6,546.5 641,546.5" fill="none" stroke="#000000" stroke-width="1" stroke-linejoin="miter" stroke-linecap="butt"/>
<polyline points="641,546.5 651.3,546.5" fill="none" stroke="#800000" stroke-width="1" stroke-linejoin="miter" stroke-linecap="butt"/>
<line x1="651.5" y1="541" x2="651.5" y2="552" stroke="#800000" stroke-width="1" stroke-linecap="butt"/>
<text x="654.5" y="550" fill="#800000" font-size="10.3" text-anchor="start" font-weight="normal">+MOTOR</text>
<text x="534" y="484.8" fill="#1a1a80" font-size="10.3" text-anchor="start" font-weight="normal">D306</text>
<text x="534" y="521" fill="#1a1a80" font-size="10.3" text-anchor="start" font-weight="normal">1N5819</text>
<text x="534" y="531.6" fill="#1a1a80" font-size="10.3" text-anchor="start" font-weight="normal">D305</text>
<text x="534" y="568.3" fill="#1a1a80" font-size="10.3" text-anchor="start" font-weight="normal">1N5819</text>
<text x="605" y="484.8" fill="#1a1a80" font-size="10.3" text-anchor="start" font-weight="normal">D308</text>
<text x="605" y="521" fill="#1a1a80" font-size="10.3" text-anchor="start" font-weight="normal">1N5819</text>
<text x="605" y="531.6" fill="#1a1a80" font-size="10.3" text-anchor="start" font-weight="normal">D307</text>
<text x="605" y="568.3" fill="#1a1a80" font-size="10.3" text-anchor="start" font-weight="normal">1N5819</text>
<polyline points="547.5,732.5 744.8,732.5" fill="none" stroke="#000080" stroke-width="3.2" stroke-linejoin="round" stroke-linecap="butt"/>
<polyline points="744.8,732.5 760,732.5" fill="none" stroke="#000000" stroke-width="1" stroke-linejoin="miter" stroke-linecap="butt"/>
<polyline points="760,732.5 762.33,730 764.67,735 767,730 769.33,735 771.67,730 774,732.5" fill="none" stroke="#0a0ab4" stroke-width="1.4" stroke-linejoin="miter" stroke-linecap="butt"/>
<polyline points="774,732.5 789.8,732.5" fill="none" stroke="#000000" stroke-width="1" stroke-linejoin="miter" stroke-linecap="butt"/>
<polyline points="789.8,732.5 814.5,732.5" fill="none" stroke="#000080" stroke-width="3.2" stroke-linejoin="round" stroke-linecap="butt"/>
<circle cx="709.5" cy="732.5" r="3.4" fill="#000080"/>
<circle cx="814.5" cy="732.5" r="3.4" fill="#000080"/>
<polyline points="814.5,732.5 1034.5,732.5" fill="none" stroke="#000080" stroke-width="1" stroke-linejoin="miter" stroke-linecap="butt"/>
<circle cx="918.5" cy="732.5" r="2.6" fill="#000080"/>
<circle cx="964.5" cy="732.5" r="2.6" fill="#000080"/>
<circle cx="999.5" cy="732.5" r="2.6" fill="#000080"/>
<text x="754.5" y="726" fill="#1a1a80" font-size="10.3" text-anchor="start" font-weight="normal">R316</text>
<text x="754.5" y="744.8" fill="#1a1a80" font-size="10.3" text-anchor="start" font-weight="normal">0.5R</text>
<polyline points="814.5,732.5 814.5,744.1" fill="none" stroke="#800000" stroke-width="1" stroke-linejoin="miter" stroke-linecap="butt"/>
<line x1="814.5" y1="733.5" x2="814.5" y2="744.5" stroke="#800000" stroke-width="1" stroke-linecap="butt"/>
<polygon points="802.5,744.5 826.5,744.5 814.5,755 802.5,744.5" fill="none" stroke="#800000" stroke-width="1.1" stroke-linejoin="miter" stroke-linecap="butt"/>
<text x="814.5" y="764.8" fill="#800000" font-size="10.3" text-anchor="middle" font-weight="normal">GND</text>
<polyline points="709.5,732.5 709.5,639.5 744.1,639.5" fill="none" stroke="#000080" stroke-width="1" stroke-linejoin="miter" stroke-linecap="butt"/>
<rect x="744.5" y="635.5" width="22" height="8" fill="none" stroke="#0a0ab4" stroke-width="1"/>
<polyline points="766.5,639.5 872.5,639.5" fill="none" stroke="#000080" stroke-width="1" stroke-linejoin="miter" stroke-linecap="butt"/>
<polyline points="872.5,639.5 895.5,639.5" fill="none" stroke="#000000" stroke-width="1" stroke-linejoin="miter" stroke-linecap="butt"/>
<circle cx="709.5" cy="697.5" r="2.6" fill="#000080"/>
<circle cx="814.5" cy="697.5" r="2.6" fill="#000080"/>
<circle cx="814.5" cy="639.5" r="2.5" fill="#000080"/>
<text x="744.5" y="632.2" fill="#1a1a80" font-size="10.3" text-anchor="start" font-weight="normal">R308</text>
<text x="744.5" y="653.8" fill="#1a1a80" font-size="10.3" text-anchor="start" font-weight="normal">10k</text>
<polyline points="814.5,639.5 814.5,666.6" fill="none" stroke="#000080" stroke-width="1" stroke-linejoin="miter" stroke-linecap="butt"/>
<line x1="805" y1="666.5" x2="824" y2="666.5" stroke="#0a0ab4" stroke-width="1.3" stroke-linecap="butt"/>
<line x1="805" y1="671.5" x2="824" y2="671.5" stroke="#0a0ab4" stroke-width="1.3" stroke-linecap="butt"/>
<polyline points="814.5,671.4 814.5,732.5" fill="none" stroke="#000080" stroke-width="1" stroke-linejoin="miter" stroke-linecap="butt"/>
<text x="815.5" y="682.7" fill="#1a1a80" font-size="10.3" text-anchor="start" font-weight="normal">C305</text>
<polyline points="709.5,697.5 759.5,697.5" fill="none" stroke="#000080" stroke-width="1" stroke-linejoin="miter" stroke-linecap="butt"/>
<line x1="759.5" y1="688.5" x2="759.5" y2="706.5" stroke="#0a0ab4" stroke-width="1.3" stroke-linecap="butt"/>
<line x1="764.5" y1="688.5" x2="764.5" y2="706.5" stroke="#0a0ab4" stroke-width="1.3" stroke-linecap="butt"/>
<polyline points="764.5,697.5 814.5,697.5" fill="none" stroke="#000080" stroke-width="1" stroke-linejoin="miter" stroke-linecap="butt"/>
<text x="754.5" y="685.2" fill="#1a1a80" font-size="10.3" text-anchor="start" font-weight="normal">C311</text>
<polygon points="895.5,604.5 941.3,627.8 895.5,651.1" fill="none" stroke="#0a0ab4" stroke-width="1.15" stroke-linejoin="miter" stroke-linecap="butt"/>
<line x1="900" y1="616.5" x2="907" y2="616.5" stroke="#0a0ab4" stroke-width="1.3" stroke-linecap="butt"/>
<line x1="900" y1="639.5" x2="907" y2="639.5" stroke="#0a0ab4" stroke-width="1.3" stroke-linecap="butt"/>
<line x1="903.5" y1="636" x2="903.5" y2="643" stroke="#0a0ab4" stroke-width="1.3" stroke-linecap="butt"/>
<polyline points="860.5,616.5 872.5,616.5" fill="none" stroke="#000080" stroke-width="1" stroke-linejoin="miter" stroke-linecap="butt"/>
<polyline points="872.5,616.5 895.5,616.5" fill="none" stroke="#000000" stroke-width="1" stroke-linejoin="miter" stroke-linecap="butt"/>
<polygon points="889.5,613.9 889.5,619.1 895,616.5 889.5,613.9" fill="#fff" stroke="#000000" stroke-width="1.15" stroke-linejoin="miter" stroke-linecap="butt"/>
<polygon points="889.5,636.9 889.5,642.1 895,639.5 889.5,636.9" fill="#fff" stroke="#000000" stroke-width="1.15" stroke-linejoin="miter" stroke-linecap="butt"/>
<polyline points="860.5,616.5 860.5,686.5 964.5,686.5" fill="none" stroke="#000080" stroke-width="1" stroke-linejoin="miter" stroke-linecap="butt"/>
<text x="886.5" y="613.5" fill="#2a2a2a" font-size="10" text-anchor="end" font-weight="normal">2</text>
<text x="886.5" y="636.5" fill="#2a2a2a" font-size="10" text-anchor="end" font-weight="normal">3</text>
<polyline points="918.5,570.3 918.5,616.1" fill="none" stroke="#800000" stroke-width="1" stroke-linejoin="miter" stroke-linecap="butt"/>
<line x1="912.25" y1="570.5" x2="924.75" y2="570.5" stroke="#800000" stroke-width="1" stroke-linecap="butt"/>
<text x="918.5" y="566.5" fill="#800000" font-size="10.3" text-anchor="middle" font-weight="normal">+5</text>
<polyline points="918.5,639.4 918.5,732.5" fill="none" stroke="#0a0ab4" stroke-width="1" stroke-linejoin="miter" stroke-linecap="butt"/>
<text x="915.5" y="592.8" fill="#2a2a2a" font-size="10" text-anchor="middle" font-weight="normal" transform="rotate(-90 915.5 592.8)">8</text>
<text x="915.5" y="662.8" fill="#2a2a2a" font-size="10" text-anchor="middle" font-weight="normal" transform="rotate(-90 915.5 662.8)">4</text>
<text x="928.5" y="602.4" fill="#1a1a80" font-size="10.3" text-anchor="start" font-weight="normal">U302A</text>
<text x="928.5" y="613.5" fill="#1a1a80" font-size="10.3" text-anchor="start" font-weight="normal">LM358AM</text>
<polyline points="941.3,628.5 964.5,628.5" fill="none" stroke="#000000" stroke-width="1" stroke-linejoin="miter" stroke-linecap="butt"/>
<polygon points="941.3,625.9 941.3,631.1 946.8,628.5 941.3,625.9" fill="#fff" stroke="#000000" stroke-width="1.15" stroke-linejoin="miter" stroke-linecap="butt"/>
<text x="950" y="625.5" fill="#2a2a2a" font-size="10" text-anchor="start" font-weight="normal">1</text>
<polyline points="964.5,628.5 1034.5,628.5 1034.5,651.5" fill="none" stroke="#000080" stroke-width="1" stroke-linejoin="miter" stroke-linecap="butt"/>
<circle cx="964.5" cy="628.5" r="2.6" fill="#000080"/>
<circle cx="999.5" cy="628.5" r="2.6" fill="#000080"/>
<rect x="960.5" y="651.1" width="8" height="22.5" fill="none" stroke="#0a0ab4" stroke-width="1"/>
<rect x="995.5" y="651.1" width="8" height="22.5" fill="none" stroke="#0a0ab4" stroke-width="1"/>
<rect x="1030.5" y="651.1" width="8" height="22.5" fill="none" stroke="#0a0ab4" stroke-width="1"/>
<polyline points="964.5,628.5 964.5,651.1" fill="none" stroke="#000080" stroke-width="1" stroke-linejoin="miter" stroke-linecap="butt"/>
<polyline points="999.5,628.5 999.5,651.1" fill="none" stroke="#000080" stroke-width="1" stroke-linejoin="miter" stroke-linecap="butt"/>
<polyline points="964.5,673.6 964.5,697" fill="none" stroke="#000080" stroke-width="1" stroke-linejoin="miter" stroke-linecap="butt"/>
<rect x="960.5" y="697" width="8" height="23" fill="none" stroke="#0a0ab4" stroke-width="1"/>
<polyline points="964.5,720 964.5,732.5" fill="none" stroke="#000080" stroke-width="1" stroke-linejoin="miter" stroke-linecap="butt"/>
<polyline points="999.5,673.6 999.5,732.5" fill="none" stroke="#000080" stroke-width="1" stroke-linejoin="miter" stroke-linecap="butt"/>
<polyline points="1034.5,673.6 1034.5,701.2" fill="none" stroke="#000080" stroke-width="1" stroke-linejoin="miter" stroke-linecap="butt"/>
<line x1="1025.5" y1="701.5" x2="1043.5" y2="701.5" stroke="#0a0ab4" stroke-width="1.3" stroke-linecap="butt"/>
<line x1="1025.5" y1="705.5" x2="1043.5" y2="705.5" stroke="#0a0ab4" stroke-width="1.3" stroke-linecap="butt"/>
<polyline points="1034.5,705.2 1034.5,732.5" fill="none" stroke="#000080" stroke-width="1" stroke-linejoin="miter" stroke-linecap="butt"/>
<circle cx="964.5" cy="686.5" r="2.6" fill="#000080"/>
<circle cx="1034.5" cy="686.5" r="2.6" fill="#000080"/>
<text x="969" y="660.1" fill="#1a1a80" font-size="10.3" text-anchor="start" font-weight="normal">R310</text>
<text x="969" y="671.7" fill="#1a1a80" font-size="10.3" text-anchor="start" font-weight="normal">10k</text>
<text x="1004" y="660.1" fill="#1a1a80" font-size="10.3" text-anchor="start" font-weight="normal">R311</text>
<text x="1004" y="671.7" fill="#1a1a80" font-size="10.3" text-anchor="start" font-weight="normal">10k</text>
<text x="1039.5" y="660.1" fill="#1a1a80" font-size="10.3" text-anchor="start" font-weight="normal">R312</text>
<text x="1039.5" y="671.7" fill="#1a1a80" font-size="10.3" text-anchor="start" font-weight="normal">10k</text>
<text x="969" y="706.6" fill="#1a1a80" font-size="10.3" text-anchor="start" font-weight="normal">R309</text>
<text x="969" y="718.2" fill="#1a1a80" font-size="10.3" text-anchor="start" font-weight="normal">10k</text>
<text x="1044" y="706" fill="#1a1a80" font-size="10.3" text-anchor="start" font-weight="normal">C306</text>
<polyline points="1034.5,686.5 1080,686.5" fill="none" stroke="#000080" stroke-width="1" stroke-linejoin="miter" stroke-linecap="butt"/>
<polygon points="1080.5,680.5 1156.8,680.5 1162.6,686.5 1156.8,692.5 1080.5,692.5" fill="#faf07a" stroke="#6a1a00" stroke-width="1.15" stroke-linejoin="miter" stroke-linecap="butt"/>
<text x="1092.5" y="689.4" fill="#6e4208" font-size="10.3" text-anchor="start" font-weight="normal" letter-spacing="0.2" stroke="#6e4208" stroke-width="0.25">I-SENSE_R</text>
<rect x="906.5" y="767.5" width="406" height="92" fill="none" stroke="#000" stroke-width="1.2"/>
<line x1="906.5" y1="802.5" x2="1312.5" y2="802.5" stroke="#000" stroke-width="1.2" stroke-linecap="butt"/>
<line x1="906.5" y1="837.5" x2="1312.5" y2="837.5" stroke="#000" stroke-width="1.2" stroke-linecap="butt"/>
<line x1="906.5" y1="848.5" x2="1312.5" y2="848.5" stroke="#000" stroke-width="1.2" stroke-linecap="butt"/>
<line x1="964.5" y1="802.5" x2="964.5" y2="837.5" stroke="#000" stroke-width="1.2" stroke-linecap="butt"/>
<line x1="1197.5" y1="802.5" x2="1197.5" y2="837.5" stroke="#000" stroke-width="1.2" stroke-linecap="butt"/>
<line x1="1139.5" y1="837.5" x2="1139.5" y2="859.5" stroke="#000" stroke-width="1.2" stroke-linecap="butt"/>
<text x="912.5" y="777" fill="#202020" font-size="10.3" text-anchor="start" font-weight="normal" letter-spacing="0.15">Title</text>
<text x="912.5" y="793.5" fill="#000080" font-size="12.5" text-anchor="start" font-weight="bold">Go-motor drivers</text>
<text x="912.5" y="811.5" fill="#202020" font-size="10.3" text-anchor="start" font-weight="normal" letter-spacing="0.15">Size</text>
<text x="918.5" y="829.5" fill="#202020" font-size="10.3" text-anchor="start" font-weight="normal" letter-spacing="0.15">A4</text>
<text x="970.5" y="811.5" fill="#202020" font-size="10.3" text-anchor="start" font-weight="normal" letter-spacing="0.15">Number</text>
<text x="970.5" y="829.5" fill="#000080" font-size="12.5" text-anchor="start" font-weight="bold">Denna mower 2010, Mainboard</text>
<text x="1202.5" y="811.5" fill="#202020" font-size="10.3" text-anchor="start" font-weight="normal" letter-spacing="0.15">Revision</text>
<text x="1202.5" y="830" fill="#000080" font-size="12" text-anchor="start" font-weight="normal">*</text>
<text x="912.5" y="846" fill="#202020" font-size="10.3" text-anchor="start" font-weight="normal" letter-spacing="0.15">Date:</text>
<text x="964.5" y="846" fill="#202020" font-size="10.3" text-anchor="start" font-weight="normal" letter-spacing="0.15">2014-04-04</text>
<text x="1144.5" y="846" fill="#202020" font-size="10.3" text-anchor="start" font-weight="normal" xml:space="preserve" letter-spacing="0.15">Sheet    of</text>
<text x="912.5" y="857.5" fill="#202020" font-size="10.3" text-anchor="start" font-weight="normal" letter-spacing="0.15">File:</text>
<text x="964.5" y="857.5" fill="#202020" font-size="10.3" text-anchor="start" font-weight="normal" xml:space="preserve" letter-spacing="0.15">D:\  User documents\..\Go-motor drivers.SchDoc</text>
<text x="1144.5" y="857.5" fill="#202020" font-size="10.3" text-anchor="start" font-weight="normal" letter-spacing="0.15">Drawn By:</text></svg></body></html>
